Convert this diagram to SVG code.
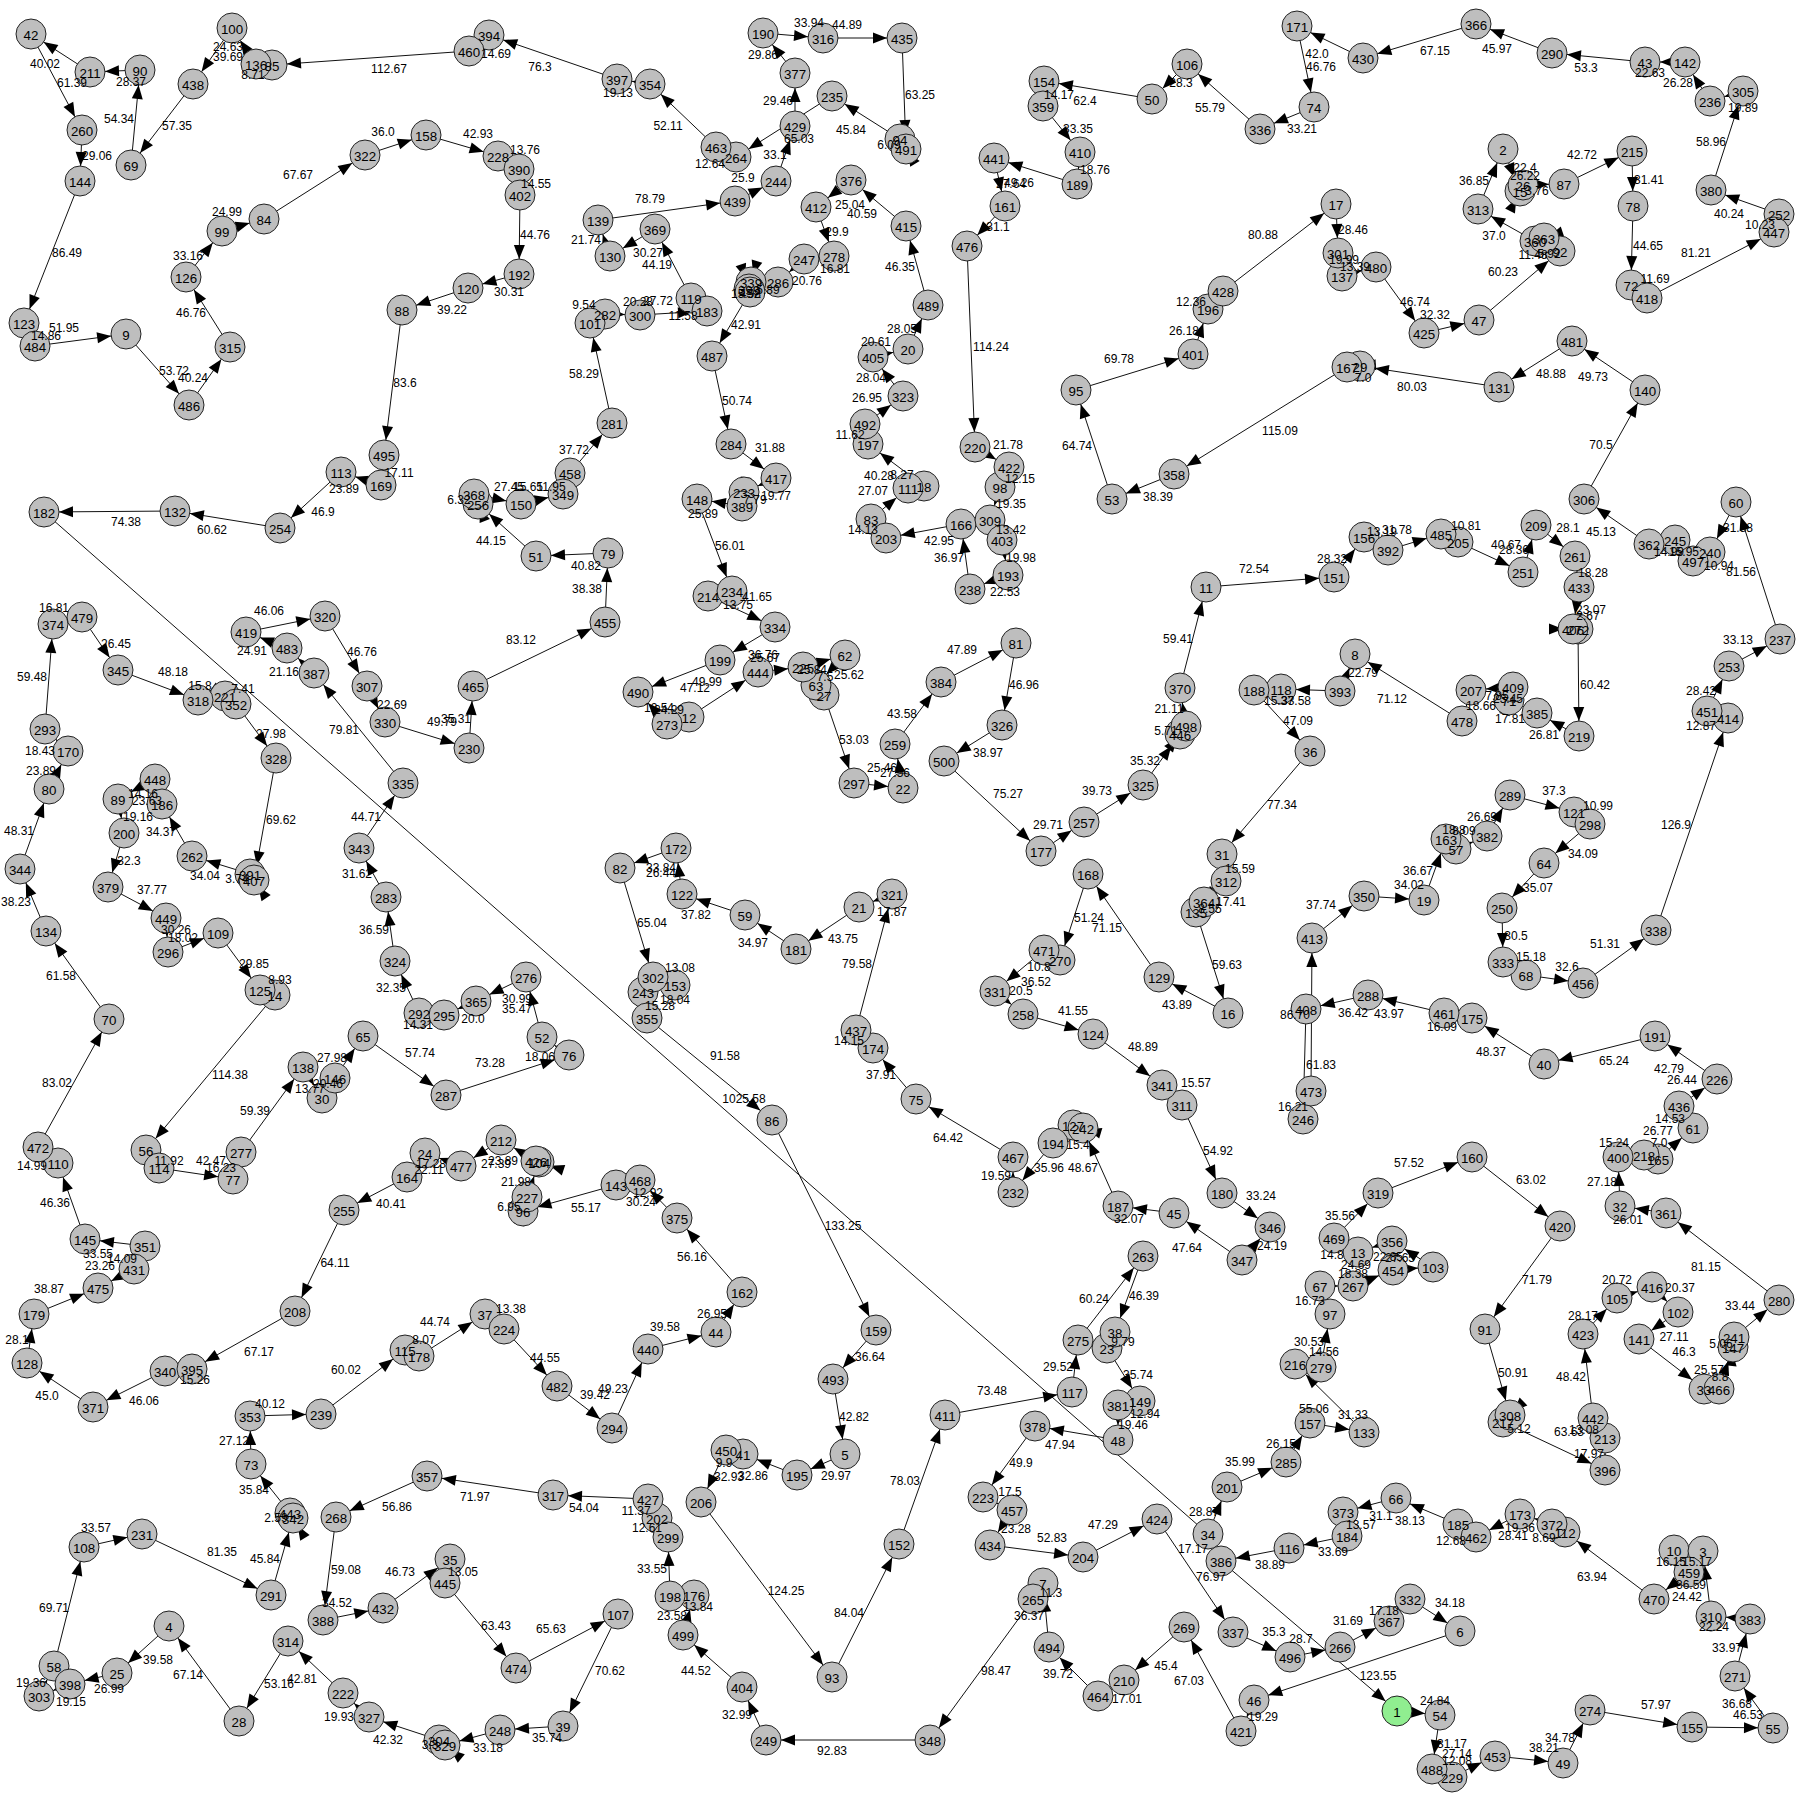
<svg xmlns="http://www.w3.org/2000/svg" width="1800" height="1800" viewBox="0 0 1800 1800">
<style>
text{font-family:"Liberation Sans",Arial,sans-serif;text-anchor:middle;fill:#000}
text[id]{fill:inherit}
#edges path{fill:none;stroke:#111;stroke-width:1}
#edges path.x{marker-end:none}
.n{fill:none}
.n circle{r:15px;fill:#bebebe;stroke:#222;stroke-width:1}
.n.s circle{fill:#90ee90}
.n text{font-size:13.33px}
#labels text{font-size:12px}
#top use{fill:#000}
</style>
<defs><marker id="a" markerUnits="userSpaceOnUse" markerWidth="30" markerHeight="12" refX="30" refY="6" orient="auto"><path d="M1 .5L15 6L1 11.5z" fill="#000"/></marker></defs>
<rect width="1800" height="1800" fill="#fff"/>
<g id="edges" marker-end="url(#a)">
<path d="M90 72L31 34"/><path d="M31 34L82 130"/><path d="M140 70L90 72"/><path d="M131 165L140 70"/><path d="M82 130L80 181"/><path d="M80 181L24 323"/><path d="M24 323L35 346"/><path d="M35 346L126 334"/><path d="M126 334L189 405"/><path d="M189 405L230 347"/><path d="M230 347L186 277"/><path d="M186 277L222 231"/><path d="M222 231L264 219"/><path d="M264 219L365 155"/><path d="M365 155L426 135"/><path d="M426 135L498 156"/><path d="M498 156L519 169"/><path d="M519 169L520 195"/><path d="M520 195L519 274"/><path d="M519 274L468 288"/><path d="M468 288L402 310"/><path d="M402 310L384 455"/><path d="M384 455L381 485"/><path d="M381 485L341 472"/><path d="M341 472L280 528"/><path d="M280 528L175 511"/><path d="M175 511L44 512"/><path class="x" d="M44 512L1208 1534"/>
<path d="M256 64L232 28"/><path d="M232 28L193 84"/><path d="M272 65L256 64"/><path d="M469 51L272 65"/><path d="M489 35L469 51"/><path d="M617 79L489 35"/><path d="M193 84L131 165"/>
<path d="M570 473L612 423"/><path d="M563 494L570 473"/><path d="M521 504L563 494"/><path d="M474 494L521 504"/><path d="M478 504L474 494"/><path d="M536 556L478 504"/><path d="M608 553L536 556"/><path d="M605 622L608 553"/>
<path d="M612 423L590 323"/><path d="M590 323L605 314"/><path d="M605 314L640 315"/><path d="M640 315L707 311"/><path d="M707 311L691 298"/><path d="M691 298L655 229"/><path d="M655 229L610 256"/><path d="M610 256L598 220"/><path d="M598 220L735 201"/><path d="M735 201L776 181"/><path d="M776 181L795 126"/><path d="M795 126L795 73"/><path d="M795 73L763 33"/><path d="M763 33L823 38"/><path d="M823 38L902 38"/><path d="M902 38L906 149"/><path d="M906 149L900 139"/><path d="M900 139L832 96"/><path d="M832 96L736 157"/><path d="M736 157L716 147"/><path d="M716 147L650 84"/><path d="M650 84L617 79"/>
<path d="M906 226L851 180"/><path d="M851 180L816 207"/><path d="M816 207L834 256"/><path d="M834 256L804 259"/><path d="M804 259L778 282"/><path d="M778 282L751 282"/><path d="M751 282L749 289"/><path d="M749 289L750 292"/><path d="M750 292L712 356"/><path d="M712 356L731 444"/><path d="M731 444L776 478"/><path d="M776 478L744 492"/><path d="M744 492L742 506"/><path d="M742 506L697 499"/><path d="M697 499L732 591"/><path d="M732 591L708 596"/><path d="M708 596L775 627"/><path d="M775 627L720 660"/><path d="M720 660L638 692"/><path d="M667 724L638 692"/><path d="M689 717L667 724"/><path d="M689 717L758 672"/><path d="M758 672L803 667"/><path d="M803 667L845 655"/><path d="M845 655L816 685"/><path d="M816 685L824 695"/><path d="M824 695L854 783"/><path d="M854 783L903 788"/><path d="M903 788L895 744"/><path d="M895 744L941 682"/><path d="M941 682L1016 643"/><path d="M1016 643L1002 725"/><path d="M1002 725L944 761"/><path d="M944 761L1041 851"/><path d="M1041 851L1084 822"/><path d="M1084 822L1143 785"/><path d="M1143 785L1180 734"/><path d="M1180 734L1186 726"/><path d="M1186 726L1180 688"/><path d="M1180 688L1206 587"/><path d="M1206 587L1334 577"/><path d="M1334 577L1364 537"/><path d="M1364 537L1388 550"/><path d="M1388 550L1441 534"/><path d="M1441 534L1458 542"/><path d="M1458 542L1523 572"/><path d="M1523 572L1536 525"/><path d="M1536 525L1575 556"/><path d="M1575 556L1579 587"/><path d="M1579 587L1573 629"/><path d="M1573 629L1578 629"/><path d="M1578 629L1579 736"/><path d="M1579 736L1537 713"/><path d="M1537 713L1509 700"/><path d="M1509 700L1513 687"/><path d="M1513 687L1471 690"/><path d="M1471 690L1462 721"/><path d="M1462 721L1355 654"/><path d="M1340 691L1355 654"/><path d="M1340 691L1281 689"/><path d="M1281 689L1254 690"/><path d="M1254 690L1310 751"/><path d="M1310 751L1222 854"/><path d="M1222 854L1226 881"/><path d="M1226 881L1204 902"/><path d="M1204 902L1196 912"/><path d="M1196 912L1228 1013"/><path d="M1228 1013L1159 977"/><path d="M1159 977L1088 874"/><path d="M1088 874L1060 960"/><path d="M1060 960L1044 950"/><path d="M1044 950L995 991"/><path d="M995 991L1023 1014"/><path d="M1023 1014L1093 1034"/><path d="M1093 1034L1162 1085"/><path d="M1162 1085L1182 1105"/><path d="M1182 1105L1222 1193"/><path d="M1222 1193L1270 1227"/><path d="M1242 1260L1270 1227"/><path d="M1242 1260L1174 1213"/><path d="M1174 1213L1118 1206"/><path d="M1118 1206L1083 1128"/><path d="M1083 1128L1073 1125"/><path d="M1073 1125L1053 1143"/><path d="M1053 1143L1013 1192"/><path d="M1013 1192L1013 1157"/><path d="M1013 1157L916 1099"/><path d="M916 1099L873 1048"/><path d="M873 1048L856 1030"/><path d="M856 1030L892 894"/><path d="M892 894L859 907"/><path d="M859 907L796 949"/><path d="M796 949L745 915"/><path d="M745 915L682 894"/><path d="M682 894L676 848"/><path d="M676 848L620 868"/><path d="M620 868L653 977"/><path d="M653 977L675 985"/><path d="M675 985L643 992"/><path d="M643 992L647 1018"/><path d="M647 1018L772 1120"/><path d="M772 1120L876 1330"/><path d="M876 1330L833 1379"/><path d="M833 1379L845 1454"/><path d="M845 1454L797 1475"/><path d="M797 1475L743 1454"/><path d="M743 1454L726 1450"/><path d="M726 1450L701 1502"/><path d="M701 1502L832 1677"/><path d="M832 1677L899 1544"/><path d="M899 1544L945 1415"/><path d="M945 1415L1072 1392"/><path d="M1072 1392L1078 1340"/><path d="M1078 1340L1143 1256"/><path d="M1143 1256L1115 1332"/><path d="M1115 1332L1107 1348"/><path d="M1107 1348L1140 1401"/><path d="M1140 1401L1118 1405"/><path d="M1118 1405L1118 1440"/><path d="M1118 1440L1035 1426"/><path d="M1035 1426L983 1497"/><path d="M983 1497L1012 1510"/><path d="M1012 1510L990 1545"/><path d="M990 1545L1083 1557"/><path d="M1083 1557L1157 1519"/><path d="M1157 1519L1233 1632"/><path d="M1233 1632L1290 1657"/><path d="M1290 1657L1340 1647"/><path d="M1340 1647L1389 1621"/><path d="M1389 1621L1410 1599"/><path d="M1410 1599L1460 1631"/><path d="M1460 1631L1254 1700"/><path d="M1254 1700L1241 1731"/><path d="M1221 1561L1397 1711"/>
<path d="M1397 1711L1440 1715"/><path d="M1440 1715L1432 1769"/><path d="M1432 1769L1452 1777"/><path d="M1452 1777L1495 1756"/><path d="M1495 1756L1563 1763"/><path d="M1563 1763L1590 1710"/><path d="M1590 1710L1692 1727"/><path d="M1692 1727L1773 1728"/><path d="M1773 1728L1735 1676"/><path d="M1735 1676L1750 1619"/><path d="M1750 1619L1711 1616"/><path d="M1711 1616L1703 1551"/><path d="M1703 1551L1674 1550"/><path d="M1674 1550L1689 1572"/><path d="M1689 1572L1654 1599"/><path d="M1654 1599L1565 1532"/><path d="M1565 1532L1552 1524"/><path d="M1552 1524L1520 1514"/><path d="M1520 1514L1476 1537"/><path d="M1476 1537L1458 1524"/><path d="M1458 1524L1396 1498"/><path d="M1396 1498L1343 1512"/><path d="M1343 1512L1347 1536"/><path d="M1347 1536L1289 1548"/><path d="M1289 1548L1221 1561"/><path d="M1221 1561L1208 1534"/><path d="M1208 1534L1227 1487"/><path d="M1227 1487L1286 1462"/><path d="M1286 1462L1310 1423"/><path d="M1310 1423L1364 1432"/><path d="M1364 1432L1295 1364"/><path d="M1295 1364L1321 1367"/><path d="M1321 1367L1330 1314"/><path d="M1330 1314L1320 1286"/><path d="M1320 1286L1353 1286"/><path d="M1353 1286L1393 1270"/><path d="M1393 1270L1433 1267"/><path d="M1433 1267L1392 1241"/><path d="M1392 1241L1358 1252"/><path d="M1358 1252L1334 1238"/><path d="M1334 1238L1378 1193"/><path d="M1378 1193L1472 1157"/><path d="M1472 1157L1560 1226"/><path d="M1560 1226L1485 1329"/><path d="M1485 1329L1510 1415"/><path d="M1510 1415L1503 1422"/><path d="M1503 1422L1605 1470"/><path d="M1605 1470L1605 1438"/><path d="M1605 1438L1593 1418"/><path d="M1593 1418L1583 1334"/><path d="M1583 1334L1617 1298"/><path d="M1617 1298L1652 1287"/><path d="M1652 1287L1678 1312"/><path d="M1678 1312L1639 1339"/><path d="M1639 1339L1704 1389"/><path d="M1704 1389L1719 1389"/><path d="M1719 1389L1733 1347"/><path d="M1733 1347L1734 1337"/><path d="M1734 1337L1779 1300"/><path d="M1779 1300L1666 1213"/><path d="M1666 1213L1620 1206"/><path d="M1620 1206L1618 1157"/><path d="M1618 1157L1644 1155"/><path d="M1644 1155L1658 1159"/><path d="M1658 1159L1693 1128"/><path d="M1693 1128L1679 1106"/><path d="M1679 1106L1717 1079"/><path d="M1717 1079L1655 1036"/><path d="M1655 1036L1544 1064"/><path d="M1544 1064L1472 1018"/><path d="M1472 1018L1444 1013"/><path d="M1444 1013L1368 995"/><path d="M1368 995L1306 1009"/><path d="M1306 1009L1303 1119"/><path d="M1303 1119L1311 1091"/><path d="M1311 1091L1312 938"/><path d="M1312 938L1364 896"/><path d="M1364 896L1424 900"/><path d="M1424 900L1446 839"/><path d="M1446 839L1456 849"/><path d="M1456 849L1487 836"/><path d="M1487 836L1510 795"/><path d="M1510 795L1574 812"/><path d="M1574 812L1590 824"/><path d="M1590 824L1544 863"/><path d="M1544 863L1502 908"/><path d="M1502 908L1503 962"/><path d="M1503 962L1526 975"/><path d="M1526 975L1583 983"/><path d="M1583 983L1656 930"/><path d="M1656 930L1728 718"/><path d="M1728 718L1707 711"/><path d="M1707 711L1729 666"/><path d="M1729 666L1780 639"/><path d="M1780 639L1736 502"/><path d="M1736 502L1710 552"/><path d="M1710 552L1693 561"/><path d="M1693 561L1675 540"/><path d="M1675 540L1649 544"/><path d="M1649 544L1584 499"/><path d="M1584 499L1645 390"/><path d="M1645 390L1572 341"/><path d="M1572 341L1499 387"/><path d="M1499 387L1360 366"/><path d="M1360 366L1347 367"/><path d="M1347 367L1174 474"/><path d="M1174 474L1112 499"/><path d="M1112 499L1076 390"/><path d="M1076 390L1193 354"/><path d="M1193 354L1208 309"/><path d="M1208 309L1223 291"/><path d="M1223 291L1336 204"/><path d="M1336 204L1338 253"/><path d="M1338 253L1342 276"/><path d="M1342 276L1376 267"/><path d="M1376 267L1424 333"/><path d="M1424 333L1479 320"/><path d="M1479 320L1560 251"/><path d="M1560 251L1544 238"/><path d="M1544 238L1535 241"/><path d="M1535 241L1478 209"/><path d="M1478 209L1503 149"/><path d="M1503 149L1520 191"/><path d="M1520 191L1523 185"/><path d="M1523 185L1564 184"/><path d="M1564 184L1632 151"/><path d="M1632 151L1633 206"/><path d="M1633 206L1631 285"/><path d="M1631 285L1647 298"/><path d="M1647 298L1774 232"/><path d="M1774 232L1779 214"/><path d="M1779 214L1711 190"/><path d="M1711 190L1743 91"/><path d="M1743 91L1710 101"/><path d="M1710 101L1685 62"/><path d="M1685 62L1645 62"/><path d="M1645 62L1552 53"/><path d="M1552 53L1476 24"/><path d="M1476 24L1363 58"/><path d="M1363 58L1297 26"/><path d="M1297 26L1314 107"/><path d="M1314 107L1260 129"/><path d="M1260 129L1187 64"/><path d="M1187 64L1152 99"/><path d="M1152 99L1044 81"/><path d="M1044 81L1043 106"/><path d="M1043 106L1080 152"/><path d="M1080 152L1077 184"/><path d="M1077 184L994 158"/><path d="M994 158L1005 206"/><path d="M1005 206L967 246"/><path d="M967 246L975 447"/><path d="M975 447L1009 467"/><path d="M1009 467L1000 487"/><path d="M1000 487L990 520"/><path d="M990 520L1002 540"/><path d="M1002 540L1008 575"/><path d="M1008 575L970 589"/><path d="M970 589L961 524"/><path d="M961 524L886 538"/><path d="M886 538L871 519"/><path d="M871 519L908 488"/><path d="M908 488L924 486"/><path d="M924 486L868 444"/><path d="M868 444L865 424"/><path d="M865 424L903 396"/><path d="M903 396L873 357"/><path d="M873 357L908 349"/><path d="M908 349L928 305"/><path d="M928 305L906 226"/>
<path d="M82 617L118 670"/><path d="M118 670L198 700"/><path d="M198 700L225 696"/><path d="M225 696L236 704"/><path d="M236 704L276 758"/><path d="M276 758L254 880"/><path d="M254 880L250 874"/><path d="M250 874L192 856"/><path d="M192 856L162 804"/><path d="M162 804L155 779"/><path d="M155 779L118 799"/><path d="M118 799L124 833"/><path d="M124 833L108 887"/><path d="M108 887L166 918"/><path d="M166 918L168 952"/><path d="M168 952L218 933"/><path d="M218 933L260 990"/><path d="M260 990L275 995"/><path d="M275 995L146 1150"/><path d="M146 1150L159 1168"/><path d="M159 1168L233 1179"/><path d="M233 1179L241 1152"/><path d="M241 1152L303 1067"/><path d="M303 1067L322 1098"/><path d="M322 1098L335 1078"/><path d="M335 1078L363 1036"/><path d="M363 1036L446 1095"/><path d="M446 1095L569 1055"/><path d="M569 1055L542 1037"/><path d="M542 1037L526 977"/><path d="M526 977L476 1001"/><path d="M476 1001L444 1015"/><path d="M444 1015L419 1013"/><path d="M419 1013L395 961"/><path d="M395 961L386 897"/><path d="M386 897L359 848"/><path d="M359 848L403 783"/><path d="M403 783L314 673"/><path d="M314 673L287 648"/><path d="M287 648L246 632"/><path d="M246 632L325 616"/><path d="M325 616L367 686"/><path d="M367 686L385 722"/><path d="M385 722L469 748"/><path d="M469 748L473 686"/><path d="M473 686L605 622"/>
<path d="M53 624L82 617"/><path d="M45 729L53 624"/><path d="M68 751L45 729"/><path d="M49 789L68 751"/><path d="M20 869L49 789"/><path d="M46 931L20 869"/><path d="M109 1019L46 931"/><path d="M38 1147L109 1019"/><path d="M58 1163L38 1147"/><path d="M85 1239L58 1163"/><path d="M145 1246L85 1239"/><path d="M134 1269L145 1246"/><path d="M134 1269L98 1288"/><path d="M34 1314L98 1288"/><path d="M27 1363L34 1314"/><path d="M93 1407L27 1363"/><path d="M165 1371L93 1407"/><path d="M192 1369L165 1371"/><path d="M295 1311L192 1369"/><path d="M344 1210L295 1311"/><path d="M407 1177L344 1210"/><path d="M425 1153L407 1177"/><path d="M461 1166L425 1153"/><path d="M501 1140L461 1166"/><path d="M536 1161L501 1140"/><path d="M539 1162L536 1161"/><path d="M527 1197L539 1162"/><path d="M523 1211L527 1197"/><path d="M616 1185L523 1211"/><path d="M640 1180L616 1185"/><path d="M677 1218L640 1180"/><path d="M742 1292L677 1218"/><path d="M716 1332L742 1292"/><path d="M648 1349L716 1332"/><path d="M612 1428L648 1349"/><path d="M557 1386L612 1428"/><path d="M504 1329L557 1386"/><path d="M485 1314L504 1329"/><path d="M419 1356L485 1314"/><path d="M405 1350L419 1356"/><path d="M321 1414L405 1350"/><path d="M250 1416L321 1414"/><path d="M251 1464L250 1416"/><path d="M290 1513L251 1464"/><path d="M293 1518L290 1513"/><path d="M271 1595L293 1518"/><path d="M142 1534L271 1595"/><path d="M84 1547L142 1534"/><path d="M54 1666L84 1547"/><path d="M39 1696L54 1666"/><path d="M70 1684L39 1696"/><path d="M117 1673L70 1684"/><path d="M169 1626L117 1673"/><path d="M239 1721L169 1626"/><path d="M288 1641L239 1721"/><path d="M343 1693L288 1641"/><path d="M369 1717L343 1693"/><path d="M439 1740L369 1717"/><path d="M445 1745L439 1740"/><path d="M500 1730L445 1745"/><path d="M563 1726L500 1730"/><path d="M618 1614L563 1726"/><path d="M516 1668L618 1614"/><path d="M445 1583L516 1668"/><path d="M450 1559L445 1583"/><path d="M383 1608L450 1559"/><path d="M323 1620L383 1608"/><path d="M336 1517L323 1620"/><path d="M427 1476L336 1517"/><path d="M553 1495L427 1476"/><path d="M648 1499L553 1495"/><path d="M657 1518L648 1499"/><path d="M668 1537L657 1518"/><path d="M670 1596L668 1537"/><path d="M694 1595L670 1596"/><path d="M683 1635L694 1595"/><path d="M742 1687L683 1635"/><path d="M766 1740L742 1687"/><path d="M930 1740L766 1740"/><path d="M1033 1599L930 1740"/><path d="M1043 1583L1033 1599"/><path d="M1049 1647L1043 1583"/><path d="M1098 1696L1049 1647"/><path d="M1124 1680L1098 1696"/><path d="M1184 1627L1124 1680"/><path d="M1241 1731L1184 1627"/>
</g>
<g id="nodes">
<g id="n85" class="n" transform="translate(272 65)"><circle/><text id="t85" y="6">85</text></g>
<g id="n42" class="n" transform="translate(31 34)"><circle/><text y="6">42</text></g>
<g id="n211" class="n" transform="translate(90 72)"><circle/><text y="6">211</text></g>
<g id="n90" class="n" transform="translate(140 70)"><circle/><text y="6">90</text></g>
<g id="n260" class="n" transform="translate(82 130)"><circle/><text y="6">260</text></g>
<g id="n69" class="n" transform="translate(131 165)"><circle/><text y="6">69</text></g>
<g id="n144" class="n" transform="translate(80 181)"><circle/><text y="6">144</text></g>
<g id="n123" class="n" transform="translate(24 323)"><circle/><text id="t123" y="6">123</text></g>
<g id="n484" class="n" transform="translate(35 346)"><circle/><text y="6">484</text></g>
<g id="n9" class="n" transform="translate(126 334)"><circle/><text y="6">9</text></g>
<g id="n486" class="n" transform="translate(189 405)"><circle/><text y="6">486</text></g>
<g id="n315" class="n" transform="translate(230 347)"><circle/><text y="6">315</text></g>
<g id="n126" class="n" transform="translate(186 277)"><circle/><text y="6">126</text></g>
<g id="n99" class="n" transform="translate(222 231)"><circle/><text y="6">99</text></g>
<g id="n84" class="n" transform="translate(264 219)"><circle/><text y="6">84</text></g>
<g id="n322" class="n" transform="translate(365 155)"><circle/><text y="6">322</text></g>
<g id="n158" class="n" transform="translate(426 135)"><circle/><text y="6">158</text></g>
<g id="n228" class="n" transform="translate(498 156)"><circle/><text id="t228" y="6">228</text></g>
<g id="n390" class="n" transform="translate(519 169)"><circle/><text id="t390" y="6">390</text></g>
<g id="n402" class="n" transform="translate(520 195)"><circle/><text y="6">402</text></g>
<g id="n192" class="n" transform="translate(519 274)"><circle/><text y="6">192</text></g>
<g id="n120" class="n" transform="translate(468 288)"><circle/><text y="6">120</text></g>
<g id="n88" class="n" transform="translate(402 310)"><circle/><text y="6">88</text></g>
<g id="n495" class="n" transform="translate(384 455)"><circle/><text y="6">495</text></g>
<g id="n169" class="n" transform="translate(381 485)"><circle/><text y="6">169</text></g>
<g id="n113" class="n" transform="translate(341 472)"><circle/><text y="6">113</text></g>
<g id="n254" class="n" transform="translate(280 528)"><circle/><text y="6">254</text></g>
<g id="n132" class="n" transform="translate(175 511)"><circle/><text y="6">132</text></g>
<g id="n182" class="n" transform="translate(44 512)"><circle/><text y="6">182</text></g>
<g id="n100" class="n" transform="translate(232 28)"><circle/><text y="6">100</text></g>
<g id="n136" class="n" transform="translate(256 64)"><circle/><text id="t136" y="6">136</text></g>
<g id="n438" class="n" transform="translate(193 84)"><circle/><text y="6">438</text></g>
<g id="n394" class="n" transform="translate(489 35)"><circle/><text id="t394" y="6">394</text></g>
<g id="n460" class="n" transform="translate(469 51)"><circle/><text y="6">460</text></g>
<g id="n256" class="n" transform="translate(478 504)"><circle/><text id="t256" y="6">256</text></g>
<g id="n368" class="n" transform="translate(474 494)"><circle/><text y="6">368</text></g>
<g id="n150" class="n" transform="translate(521 504)"><circle/><text y="6">150</text></g>
<g id="n458" class="n" transform="translate(570 473)"><circle/><text id="t458" y="6">458</text></g>
<g id="n349" class="n" transform="translate(563 494)"><circle/><text y="6">349</text></g>
<g id="n281" class="n" transform="translate(612 423)"><circle/><text y="6">281</text></g>
<g id="n282" class="n" transform="translate(605 314)"><circle/><text id="t282" y="6">282</text></g>
<g id="n101" class="n" transform="translate(590 323)"><circle/><text y="6">101</text></g>
<g id="n51" class="n" transform="translate(536 556)"><circle/><text y="6">51</text></g>
<g id="n79" class="n" transform="translate(608 553)"><circle/><text y="6">79</text></g>
<g id="n139" class="n" transform="translate(598 220)"><circle/><text y="6">139</text></g>
<g id="n130" class="n" transform="translate(610 256)"><circle/><text y="6">130</text></g>
<g id="n369" class="n" transform="translate(655 229)"><circle/><text y="6">369</text></g>
<g id="n119" class="n" transform="translate(691 298)"><circle/><text id="t119" y="6">119</text></g>
<g id="n183" class="n" transform="translate(707 311)"><circle/><text y="6">183</text></g>
<g id="n300" class="n" transform="translate(640 315)"><circle/><text y="6">300</text></g>
<g id="n397" class="n" transform="translate(617 79)"><circle/><text y="6">397</text></g>
<g id="n354" class="n" transform="translate(650 84)"><circle/><text y="6">354</text></g>
<g id="n190" class="n" transform="translate(763 33)"><circle/><text y="6">190</text></g>
<g id="n316" class="n" transform="translate(823 38)"><circle/><text y="6">316</text></g>
<g id="n435" class="n" transform="translate(902 38)"><circle/><text y="6">435</text></g>
<g id="n377" class="n" transform="translate(795 73)"><circle/><text y="6">377</text></g>
<g id="n235" class="n" transform="translate(832 96)"><circle/><text y="6">235</text></g>
<g id="n429" class="n" transform="translate(795 126)"><circle/><text y="6">429</text></g>
<g id="n264" class="n" transform="translate(736 157)"><circle/><text id="t264" y="6">264</text></g>
<g id="n463" class="n" transform="translate(716 147)"><circle/><text y="6">463</text></g>
<g id="n94" class="n" transform="translate(900 139)"><circle/><text id="t94" y="6">94</text></g>
<g id="n491" class="n" transform="translate(906 149)"><circle/><text y="6">491</text></g>
<g id="n244" class="n" transform="translate(776 181)"><circle/><text y="6">244</text></g>
<g id="n439" class="n" transform="translate(735 201)"><circle/><text y="6">439</text></g>
<g id="n412" class="n" transform="translate(816 207)"><circle/><text y="6">412</text></g>
<g id="n376" class="n" transform="translate(851 180)"><circle/><text y="6">376</text></g>
<g id="n415" class="n" transform="translate(906 226)"><circle/><text y="6">415</text></g>
<g id="n278" class="n" transform="translate(834 256)"><circle/><text id="t278" y="6">278</text></g>
<g id="n247" class="n" transform="translate(804 259)"><circle/><text y="6">247</text></g>
<g id="n286" class="n" transform="translate(778 282)"><circle/><text id="t286" y="6">286</text></g>
<g id="n339" class="n" transform="translate(751 282)"><circle/><text id="t339" y="6">339</text></g>
<g id="n399" class="n" transform="translate(749 289)"><circle/><text id="t399" y="6">399</text></g>
<g id="n452" class="n" transform="translate(750 292)"><circle/><text y="6">452</text></g>
<g id="n487" class="n" transform="translate(712 356)"><circle/><text y="6">487</text></g>
<g id="n284" class="n" transform="translate(731 444)"><circle/><text y="6">284</text></g>
<g id="n417" class="n" transform="translate(776 478)"><circle/><text id="t417" y="6">417</text></g>
<g id="n233" class="n" transform="translate(744 492)"><circle/><text id="t233" y="6">233</text></g>
<g id="n389" class="n" transform="translate(742 506)"><circle/><text y="6">389</text></g>
<g id="n148" class="n" transform="translate(697 499)"><circle/><text y="6">148</text></g>
<g id="n214" class="n" transform="translate(708 596)"><circle/><text id="t214" y="6">214</text></g>
<g id="n234" class="n" transform="translate(732 591)"><circle/><text y="6">234</text></g>
<g id="n489" class="n" transform="translate(928 305)"><circle/><text y="6">489</text></g>
<g id="n20" class="n" transform="translate(908 349)"><circle/><text y="6">20</text></g>
<g id="n405" class="n" transform="translate(873 357)"><circle/><text y="6">405</text></g>
<g id="n323" class="n" transform="translate(903 396)"><circle/><text y="6">323</text></g>
<g id="n197" class="n" transform="translate(868 444)"><circle/><text id="t197" y="6">197</text></g>
<g id="n492" class="n" transform="translate(865 424)"><circle/><text y="6">492</text></g>
<g id="n18" class="n" transform="translate(924 486)"><circle/><text id="t18" y="6">18</text></g>
<g id="n111" class="n" transform="translate(908 488)"><circle/><text y="6">111</text></g>
<g id="n83" class="n" transform="translate(871 519)"><circle/><text id="t83" y="6">83</text></g>
<g id="n203" class="n" transform="translate(886 538)"><circle/><text y="6">203</text></g>
<g id="n166" class="n" transform="translate(961 524)"><circle/><text y="6">166</text></g>
<g id="n309" class="n" transform="translate(990 520)"><circle/><text id="t309" y="6">309</text></g>
<g id="n403" class="n" transform="translate(1002 540)"><circle/><text y="6">403</text></g>
<g id="n193" class="n" transform="translate(1008 575)"><circle/><text y="6">193</text></g>
<g id="n238" class="n" transform="translate(970 589)"><circle/><text y="6">238</text></g>
<g id="n220" class="n" transform="translate(975 447)"><circle/><text y="6">220</text></g>
<g id="n98" class="n" transform="translate(1000 487)"><circle/><text y="6">98</text></g>
<g id="n422" class="n" transform="translate(1009 467)"><circle/><text y="6">422</text></g>
<g id="n476" class="n" transform="translate(967 246)"><circle/><text y="6">476</text></g>
<g id="n161" class="n" transform="translate(1005 206)"><circle/><text y="6">161</text></g>
<g id="n441" class="n" transform="translate(994 158)"><circle/><text y="6">441</text></g>
<g id="n189" class="n" transform="translate(1077 184)"><circle/><text y="6">189</text></g>
<g id="n410" class="n" transform="translate(1080 152)"><circle/><text y="6">410</text></g>
<g id="n154" class="n" transform="translate(1044 81)"><circle/><text y="6">154</text></g>
<g id="n359" class="n" transform="translate(1043 106)"><circle/><text y="6">359</text></g>
<g id="n50" class="n" transform="translate(1152 99)"><circle/><text y="6">50</text></g>
<g id="n106" class="n" transform="translate(1187 64)"><circle/><text y="6">106</text></g>
<g id="n95" class="n" transform="translate(1076 390)"><circle/><text y="6">95</text></g>
<g id="n53" class="n" transform="translate(1112 499)"><circle/><text y="6">53</text></g>
<g id="n358" class="n" transform="translate(1174 474)"><circle/><text y="6">358</text></g>
<g id="n401" class="n" transform="translate(1193 354)"><circle/><text y="6">401</text></g>
<g id="n196" class="n" transform="translate(1208 309)"><circle/><text id="t196" y="6">196</text></g>
<g id="n428" class="n" transform="translate(1223 291)"><circle/><text y="6">428</text></g>
<g id="n17" class="n" transform="translate(1336 204)"><circle/><text y="6">17</text></g>
<g id="n137" class="n" transform="translate(1342 276)"><circle/><text id="t137" y="6">137</text></g>
<g id="n301" class="n" transform="translate(1338 253)"><circle/><text y="6">301</text></g>
<g id="n480" class="n" transform="translate(1376 267)"><circle/><text y="6">480</text></g>
<g id="n425" class="n" transform="translate(1424 333)"><circle/><text y="6">425</text></g>
<g id="n47" class="n" transform="translate(1479 320)"><circle/><text y="6">47</text></g>
<g id="n92" class="n" transform="translate(1560 251)"><circle/><text id="t92" y="6">92</text></g>
<g id="n360" class="n" transform="translate(1535 241)"><circle/><text id="t360" y="6">360</text></g>
<g id="n363" class="n" transform="translate(1544 238)"><circle/><text y="6">363</text></g>
<g id="n313" class="n" transform="translate(1478 209)"><circle/><text y="6">313</text></g>
<g id="n2" class="n" transform="translate(1503 149)"><circle/><text y="6">2</text></g>
<g id="n15" class="n" transform="translate(1520 191)"><circle/><text id="t15" y="6">15</text></g>
<g id="n26" class="n" transform="translate(1523 185)"><circle/><text y="6">26</text></g>
<g id="n87" class="n" transform="translate(1564 184)"><circle/><text y="6">87</text></g>
<g id="n215" class="n" transform="translate(1632 151)"><circle/><text y="6">215</text></g>
<g id="n78" class="n" transform="translate(1633 206)"><circle/><text y="6">78</text></g>
<g id="n72" class="n" transform="translate(1631 285)"><circle/><text id="t72" y="6">72</text></g>
<g id="n418" class="n" transform="translate(1647 298)"><circle/><text y="6">418</text></g>
<g id="n252" class="n" transform="translate(1779 214)"><circle/><text id="t252" y="6">252</text></g>
<g id="n447" class="n" transform="translate(1774 232)"><circle/><text y="6">447</text></g>
<g id="n380" class="n" transform="translate(1711 190)"><circle/><text y="6">380</text></g>
<g id="n305" class="n" transform="translate(1743 91)"><circle/><text y="6">305</text></g>
<g id="n236" class="n" transform="translate(1710 101)"><circle/><text y="6">236</text></g>
<g id="n142" class="n" transform="translate(1685 62)"><circle/><text y="6">142</text></g>
<g id="n43" class="n" transform="translate(1645 62)"><circle/><text y="6">43</text></g>
<g id="n290" class="n" transform="translate(1552 53)"><circle/><text y="6">290</text></g>
<g id="n366" class="n" transform="translate(1476 24)"><circle/><text y="6">366</text></g>
<g id="n430" class="n" transform="translate(1363 58)"><circle/><text y="6">430</text></g>
<g id="n171" class="n" transform="translate(1297 26)"><circle/><text y="6">171</text></g>
<g id="n74" class="n" transform="translate(1314 107)"><circle/><text y="6">74</text></g>
<g id="n336" class="n" transform="translate(1260 129)"><circle/><text y="6">336</text></g>
<g id="n481" class="n" transform="translate(1572 341)"><circle/><text y="6">481</text></g>
<g id="n131" class="n" transform="translate(1499 387)"><circle/><text y="6">131</text></g>
<g id="n140" class="n" transform="translate(1645 390)"><circle/><text y="6">140</text></g>
<g id="n29" class="n" transform="translate(1360 366)"><circle/><text id="t29" y="6">29</text></g>
<g id="n167" class="n" transform="translate(1347 367)"><circle/><text y="6">167</text></g>
<g id="n306" class="n" transform="translate(1584 499)"><circle/><text y="6">306</text></g>
<g id="n245" class="n" transform="translate(1675 540)"><circle/><text id="t245" y="6">245</text></g>
<g id="n362" class="n" transform="translate(1649 544)"><circle/><text y="6">362</text></g>
<g id="n240" class="n" transform="translate(1710 552)"><circle/><text id="t240" y="6">240</text></g>
<g id="n497" class="n" transform="translate(1693 561)"><circle/><text y="6">497</text></g>
<g id="n60" class="n" transform="translate(1736 502)"><circle/><text y="6">60</text></g>
<g id="n237" class="n" transform="translate(1780 639)"><circle/><text y="6">237</text></g>
<g id="n209" class="n" transform="translate(1536 525)"><circle/><text y="6">209</text></g>
<g id="n261" class="n" transform="translate(1575 556)"><circle/><text y="6">261</text></g>
<g id="n251" class="n" transform="translate(1523 572)"><circle/><text y="6">251</text></g>
<g id="n205" class="n" transform="translate(1458 542)"><circle/><text id="t205" y="6">205</text></g>
<g id="n485" class="n" transform="translate(1441 534)"><circle/><text y="6">485</text></g>
<g id="n156" class="n" transform="translate(1364 537)"><circle/><text id="t156" y="6">156</text></g>
<g id="n392" class="n" transform="translate(1388 550)"><circle/><text y="6">392</text></g>
<g id="n151" class="n" transform="translate(1334 577)"><circle/><text y="6">151</text></g>
<g id="n11" class="n" transform="translate(1206 587)"><circle/><text y="6">11</text></g>
<g id="n433" class="n" transform="translate(1579 587)"><circle/><text y="6">433</text></g>
<g id="n374" class="n" transform="translate(53 624)"><circle/><text y="6">374</text></g>
<g id="n479" class="n" transform="translate(82 617)"><circle/><text y="6">479</text></g>
<g id="n345" class="n" transform="translate(118 670)"><circle/><text y="6">345</text></g>
<g id="n221" class="n" transform="translate(225 696)"><circle/><text id="t221" y="6">221</text></g>
<g id="n318" class="n" transform="translate(198 700)"><circle/><text id="t318" y="6">318</text></g>
<g id="n352" class="n" transform="translate(236 704)"><circle/><text y="6">352</text></g>
<g id="n328" class="n" transform="translate(276 758)"><circle/><text y="6">328</text></g>
<g id="n419" class="n" transform="translate(246 632)"><circle/><text y="6">419</text></g>
<g id="n483" class="n" transform="translate(287 648)"><circle/><text y="6">483</text></g>
<g id="n320" class="n" transform="translate(325 616)"><circle/><text y="6">320</text></g>
<g id="n387" class="n" transform="translate(314 673)"><circle/><text y="6">387</text></g>
<g id="n307" class="n" transform="translate(367 686)"><circle/><text y="6">307</text></g>
<g id="n330" class="n" transform="translate(385 722)"><circle/><text y="6">330</text></g>
<g id="n230" class="n" transform="translate(469 748)"><circle/><text y="6">230</text></g>
<g id="n465" class="n" transform="translate(473 686)"><circle/><text y="6">465</text></g>
<g id="n455" class="n" transform="translate(605 622)"><circle/><text y="6">455</text></g>
<g id="n293" class="n" transform="translate(45 729)"><circle/><text y="6">293</text></g>
<g id="n170" class="n" transform="translate(68 751)"><circle/><text y="6">170</text></g>
<g id="n80" class="n" transform="translate(49 789)"><circle/><text y="6">80</text></g>
<g id="n344" class="n" transform="translate(20 869)"><circle/><text y="6">344</text></g>
<g id="n134" class="n" transform="translate(46 931)"><circle/><text y="6">134</text></g>
<g id="n70" class="n" transform="translate(109 1019)"><circle/><text y="6">70</text></g>
<g id="n110" class="n" transform="translate(58 1163)"><circle/><text id="t110" y="6">110</text></g>
<g id="n472" class="n" transform="translate(38 1147)"><circle/><text y="6">472</text></g>
<g id="n448" class="n" transform="translate(155 779)"><circle/><text id="t448" y="6">448</text></g>
<g id="n89" class="n" transform="translate(118 799)"><circle/><text y="6">89</text></g>
<g id="n186" class="n" transform="translate(162 804)"><circle/><text y="6">186</text></g>
<g id="n200" class="n" transform="translate(124 833)"><circle/><text y="6">200</text></g>
<g id="n379" class="n" transform="translate(108 887)"><circle/><text y="6">379</text></g>
<g id="n262" class="n" transform="translate(192 856)"><circle/><text y="6">262</text></g>
<g id="n391" class="n" transform="translate(250 874)"><circle/><text id="t391" y="6">391</text></g>
<g id="n407" class="n" transform="translate(254 880)"><circle/><text y="6">407</text></g>
<g id="n449" class="n" transform="translate(166 918)"><circle/><text y="6">449</text></g>
<g id="n296" class="n" transform="translate(168 952)"><circle/><text y="6">296</text></g>
<g id="n109" class="n" transform="translate(218 933)"><circle/><text y="6">109</text></g>
<g id="n14" class="n" transform="translate(275 995)"><circle/><text id="t14" y="6">14</text></g>
<g id="n125" class="n" transform="translate(260 990)"><circle/><text y="6">125</text></g>
<g id="n56" class="n" transform="translate(146 1150)"><circle/><text id="t56" y="6">56</text></g>
<g id="n114" class="n" transform="translate(159 1168)"><circle/><text y="6">114</text></g>
<g id="n277" class="n" transform="translate(241 1152)"><circle/><text id="t277" y="6">277</text></g>
<g id="n77" class="n" transform="translate(233 1179)"><circle/><text y="6">77</text></g>
<g id="n138" class="n" transform="translate(303 1067)"><circle/><text y="6">138</text></g>
<g id="n30" class="n" transform="translate(322 1098)"><circle/><text id="t30" y="6">30</text></g>
<g id="n146" class="n" transform="translate(335 1078)"><circle/><text y="6">146</text></g>
<g id="n65" class="n" transform="translate(363 1036)"><circle/><text y="6">65</text></g>
<g id="n287" class="n" transform="translate(446 1095)"><circle/><text y="6">287</text></g>
<g id="n52" class="n" transform="translate(542 1037)"><circle/><text y="6">52</text></g>
<g id="n76" class="n" transform="translate(569 1055)"><circle/><text y="6">76</text></g>
<g id="n276" class="n" transform="translate(526 977)"><circle/><text y="6">276</text></g>
<g id="n365" class="n" transform="translate(476 1001)"><circle/><text y="6">365</text></g>
<g id="n292" class="n" transform="translate(419 1013)"><circle/><text id="t292" y="6">292</text></g>
<g id="n295" class="n" transform="translate(444 1015)"><circle/><text y="6">295</text></g>
<g id="n324" class="n" transform="translate(395 961)"><circle/><text y="6">324</text></g>
<g id="n283" class="n" transform="translate(386 897)"><circle/><text y="6">283</text></g>
<g id="n343" class="n" transform="translate(359 848)"><circle/><text y="6">343</text></g>
<g id="n335" class="n" transform="translate(403 783)"><circle/><text y="6">335</text></g>
<g id="n24" class="n" transform="translate(425 1153)"><circle/><text id="t24" y="6">24</text></g>
<g id="n164" class="n" transform="translate(407 1177)"><circle/><text y="6">164</text></g>
<g id="n477" class="n" transform="translate(461 1166)"><circle/><text y="6">477</text></g>
<g id="n212" class="n" transform="translate(501 1140)"><circle/><text y="6">212</text></g>
<g id="n104" class="n" transform="translate(539 1162)"><circle/><text id="t104" y="6">104</text></g>
<g id="n426" class="n" transform="translate(536 1161)"><circle/><text y="6">426</text></g>
<g id="n96" class="n" transform="translate(523 1211)"><circle/><text id="t96" y="6">96</text></g>
<g id="n227" class="n" transform="translate(527 1197)"><circle/><text y="6">227</text></g>
<g id="n334" class="n" transform="translate(775 627)"><circle/><text y="6">334</text></g>
<g id="n199" class="n" transform="translate(720 660)"><circle/><text y="6">199</text></g>
<g id="n444" class="n" transform="translate(758 672)"><circle/><text y="6">444</text></g>
<g id="n490" class="n" transform="translate(638 692)"><circle/><text y="6">490</text></g>
<g id="n12" class="n" transform="translate(689 717)"><circle/><text id="t12" y="6">12</text></g>
<g id="n273" class="n" transform="translate(667 724)"><circle/><text y="6">273</text></g>
<g id="n62" class="n" transform="translate(845 655)"><circle/><text y="6">62</text></g>
<g id="n27" class="n" transform="translate(824 695)"><circle/><text id="t27" y="6">27</text></g>
<g id="n63" class="n" transform="translate(816 685)"><circle/><text id="t63" y="6">63</text></g>
<g id="n225" class="n" transform="translate(803 667)"><circle/><text y="6">225</text></g>
<g id="n297" class="n" transform="translate(854 783)"><circle/><text y="6">297</text></g>
<g id="n22" class="n" transform="translate(903 788)"><circle/><text y="6">22</text></g>
<g id="n259" class="n" transform="translate(895 744)"><circle/><text y="6">259</text></g>
<g id="n384" class="n" transform="translate(941 682)"><circle/><text y="6">384</text></g>
<g id="n81" class="n" transform="translate(1016 643)"><circle/><text y="6">81</text></g>
<g id="n326" class="n" transform="translate(1002 725)"><circle/><text y="6">326</text></g>
<g id="n500" class="n" transform="translate(944 761)"><circle/><text y="6">500</text></g>
<g id="n177" class="n" transform="translate(1041 851)"><circle/><text y="6">177</text></g>
<g id="n257" class="n" transform="translate(1084 822)"><circle/><text y="6">257</text></g>
<g id="n325" class="n" transform="translate(1143 785)"><circle/><text y="6">325</text></g>
<g id="n370" class="n" transform="translate(1180 688)"><circle/><text y="6">370</text></g>
<g id="n446" class="n" transform="translate(1180 734)"><circle/><text id="t446" y="6">446</text></g>
<g id="n498" class="n" transform="translate(1186 726)"><circle/><text y="6">498</text></g>
<g id="n172" class="n" transform="translate(676 848)"><circle/><text y="6">172</text></g>
<g id="n82" class="n" transform="translate(620 868)"><circle/><text y="6">82</text></g>
<g id="n122" class="n" transform="translate(682 894)"><circle/><text y="6">122</text></g>
<g id="n59" class="n" transform="translate(745 915)"><circle/><text y="6">59</text></g>
<g id="n181" class="n" transform="translate(796 949)"><circle/><text y="6">181</text></g>
<g id="n21" class="n" transform="translate(859 907)"><circle/><text y="6">21</text></g>
<g id="n321" class="n" transform="translate(892 894)"><circle/><text y="6">321</text></g>
<g id="n153" class="n" transform="translate(675 985)"><circle/><text id="t153" y="6">153</text></g>
<g id="n243" class="n" transform="translate(643 992)"><circle/><text id="t243" y="6">243</text></g>
<g id="n302" class="n" transform="translate(653 977)"><circle/><text y="6">302</text></g>
<g id="n355" class="n" transform="translate(647 1018)"><circle/><text y="6">355</text></g>
<g id="n174" class="n" transform="translate(873 1048)"><circle/><text id="t174" y="6">174</text></g>
<g id="n437" class="n" transform="translate(856 1030)"><circle/><text y="6">437</text></g>
<g id="n86" class="n" transform="translate(772 1120)"><circle/><text y="6">86</text></g>
<g id="n75" class="n" transform="translate(916 1099)"><circle/><text y="6">75</text></g>
<g id="n232" class="n" transform="translate(1013 1192)"><circle/><text y="6">232</text></g>
<g id="n467" class="n" transform="translate(1013 1157)"><circle/><text y="6">467</text></g>
<g id="n127" class="n" transform="translate(1073 1125)"><circle/><text id="t127" y="6">127</text></g>
<g id="n242" class="n" transform="translate(1083 1128)"><circle/><text y="6">242</text></g>
<g id="n194" class="n" transform="translate(1053 1143)"><circle/><text y="6">194</text></g>
<g id="n168" class="n" transform="translate(1088 874)"><circle/><text y="6">168</text></g>
<g id="n270" class="n" transform="translate(1060 960)"><circle/><text id="t270" y="6">270</text></g>
<g id="n471" class="n" transform="translate(1044 950)"><circle/><text y="6">471</text></g>
<g id="n258" class="n" transform="translate(1023 1014)"><circle/><text y="6">258</text></g>
<g id="n331" class="n" transform="translate(995 991)"><circle/><text y="6">331</text></g>
<g id="n124" class="n" transform="translate(1093 1034)"><circle/><text y="6">124</text></g>
<g id="n129" class="n" transform="translate(1159 977)"><circle/><text y="6">129</text></g>
<g id="n311" class="n" transform="translate(1182 1105)"><circle/><text y="6">311</text></g>
<g id="n341" class="n" transform="translate(1162 1085)"><circle/><text y="6">341</text></g>
<g id="n8" class="n" transform="translate(1355 654)"><circle/><text y="6">8</text></g>
<g id="n393" class="n" transform="translate(1340 691)"><circle/><text y="6">393</text></g>
<g id="n118" class="n" transform="translate(1281 689)"><circle/><text id="t118" y="6">118</text></g>
<g id="n188" class="n" transform="translate(1254 690)"><circle/><text y="6">188</text></g>
<g id="n36" class="n" transform="translate(1310 751)"><circle/><text y="6">36</text></g>
<g id="n31" class="n" transform="translate(1222 854)"><circle/><text y="6">31</text></g>
<g id="n312" class="n" transform="translate(1226 881)"><circle/><text id="t312" y="6">312</text></g>
<g id="n135" class="n" transform="translate(1196 912)"><circle/><text id="t135" y="6">135</text></g>
<g id="n364" class="n" transform="translate(1204 902)"><circle/><text y="6">364</text></g>
<g id="n16" class="n" transform="translate(1228 1013)"><circle/><text y="6">16</text></g>
<g id="n413" class="n" transform="translate(1312 938)"><circle/><text y="6">413</text></g>
<g id="n350" class="n" transform="translate(1364 896)"><circle/><text y="6">350</text></g>
<g id="n19" class="n" transform="translate(1424 900)"><circle/><text y="6">19</text></g>
<g id="n57" class="n" transform="translate(1456 849)"><circle/><text id="t57" y="6">57</text></g>
<g id="n163" class="n" transform="translate(1446 839)"><circle/><text y="6">163</text></g>
<g id="n382" class="n" transform="translate(1487 836)"><circle/><text y="6">382</text></g>
<g id="n289" class="n" transform="translate(1510 795)"><circle/><text y="6">289</text></g>
<g id="n121" class="n" transform="translate(1574 812)"><circle/><text id="t121" y="6">121</text></g>
<g id="n298" class="n" transform="translate(1590 824)"><circle/><text y="6">298</text></g>
<g id="n64" class="n" transform="translate(1544 863)"><circle/><text y="6">64</text></g>
<g id="n250" class="n" transform="translate(1502 908)"><circle/><text y="6">250</text></g>
<g id="n68" class="n" transform="translate(1526 975)"><circle/><text id="t68" y="6">68</text></g>
<g id="n333" class="n" transform="translate(1503 962)"><circle/><text y="6">333</text></g>
<g id="n456" class="n" transform="translate(1583 983)"><circle/><text y="6">456</text></g>
<g id="n338" class="n" transform="translate(1656 930)"><circle/><text y="6">338</text></g>
<g id="n414" class="n" transform="translate(1728 718)"><circle/><text id="t414" y="6">414</text></g>
<g id="n451" class="n" transform="translate(1707 711)"><circle/><text y="6">451</text></g>
<g id="n253" class="n" transform="translate(1729 666)"><circle/><text y="6">253</text></g>
<g id="n219" class="n" transform="translate(1579 736)"><circle/><text y="6">219</text></g>
<g id="n71" class="n" transform="translate(1509 700)"><circle/><text id="t71" y="6">71</text></g>
<g id="n385" class="n" transform="translate(1537 713)"><circle/><text y="6">385</text></g>
<g id="n409" class="n" transform="translate(1513 687)"><circle/><text y="6">409</text></g>
<g id="n207" class="n" transform="translate(1471 690)"><circle/><text y="6">207</text></g>
<g id="n478" class="n" transform="translate(1462 721)"><circle/><text y="6">478</text></g>
<g id="n272" class="n" transform="translate(1578 629)"><circle/><text id="t272" y="6">272</text></g>
<g id="n406" class="n" transform="translate(1573 629)"><circle/><text y="6">406</text></g>
<g id="n408" class="n" transform="translate(1306 1009)"><circle/><text y="6">408</text></g>
<g id="n288" class="n" transform="translate(1368 995)"><circle/><text y="6">288</text></g>
<g id="n175" class="n" transform="translate(1472 1018)"><circle/><text id="t175" y="6">175</text></g>
<g id="n461" class="n" transform="translate(1444 1013)"><circle/><text y="6">461</text></g>
<g id="n40" class="n" transform="translate(1544 1064)"><circle/><text y="6">40</text></g>
<g id="n191" class="n" transform="translate(1655 1036)"><circle/><text y="6">191</text></g>
<g id="n226" class="n" transform="translate(1717 1079)"><circle/><text y="6">226</text></g>
<g id="n61" class="n" transform="translate(1693 1128)"><circle/><text id="t61" y="6">61</text></g>
<g id="n436" class="n" transform="translate(1679 1106)"><circle/><text y="6">436</text></g>
<g id="n165" class="n" transform="translate(1658 1159)"><circle/><text id="t165" y="6">165</text></g>
<g id="n218" class="n" transform="translate(1644 1155)"><circle/><text id="t218" y="6">218</text></g>
<g id="n400" class="n" transform="translate(1618 1157)"><circle/><text y="6">400</text></g>
<g id="n246" class="n" transform="translate(1303 1119)"><circle/><text id="t246" y="6">246</text></g>
<g id="n473" class="n" transform="translate(1311 1091)"><circle/><text y="6">473</text></g>
<g id="n160" class="n" transform="translate(1472 1157)"><circle/><text y="6">160</text></g>
<g id="n319" class="n" transform="translate(1378 1193)"><circle/><text y="6">319</text></g>
<g id="n180" class="n" transform="translate(1222 1193)"><circle/><text y="6">180</text></g>
<g id="n145" class="n" transform="translate(85 1239)"><circle/><text y="6">145</text></g>
<g id="n351" class="n" transform="translate(145 1246)"><circle/><text id="t351" y="6">351</text></g>
<g id="n431" class="n" transform="translate(134 1269)"><circle/><text y="6">431</text></g>
<g id="n475" class="n" transform="translate(98 1288)"><circle/><text y="6">475</text></g>
<g id="n179" class="n" transform="translate(34 1314)"><circle/><text y="6">179</text></g>
<g id="n128" class="n" transform="translate(27 1363)"><circle/><text y="6">128</text></g>
<g id="n371" class="n" transform="translate(93 1407)"><circle/><text y="6">371</text></g>
<g id="n340" class="n" transform="translate(165 1371)"><circle/><text id="t340" y="6">340</text></g>
<g id="n395" class="n" transform="translate(192 1369)"><circle/><text y="6">395</text></g>
<g id="n208" class="n" transform="translate(295 1311)"><circle/><text y="6">208</text></g>
<g id="n255" class="n" transform="translate(344 1210)"><circle/><text y="6">255</text></g>
<g id="n239" class="n" transform="translate(321 1414)"><circle/><text y="6">239</text></g>
<g id="n353" class="n" transform="translate(250 1416)"><circle/><text y="6">353</text></g>
<g id="n73" class="n" transform="translate(251 1464)"><circle/><text y="6">73</text></g>
<g id="n443" class="n" transform="translate(290 1513)"><circle/><text id="t443" y="6">443</text></g>
<g id="n342" class="n" transform="translate(293 1518)"><circle/><text y="6">342</text></g>
<g id="n357" class="n" transform="translate(427 1476)"><circle/><text y="6">357</text></g>
<g id="n268" class="n" transform="translate(336 1517)"><circle/><text y="6">268</text></g>
<g id="n317" class="n" transform="translate(553 1495)"><circle/><text y="6">317</text></g>
<g id="n291" class="n" transform="translate(271 1595)"><circle/><text y="6">291</text></g>
<g id="n231" class="n" transform="translate(142 1534)"><circle/><text y="6">231</text></g>
<g id="n108" class="n" transform="translate(84 1547)"><circle/><text y="6">108</text></g>
<g id="n303" class="n" transform="translate(39 1696)"><circle/><text id="t303" y="6">303</text></g>
<g id="n58" class="n" transform="translate(54 1666)"><circle/><text id="t58" y="6">58</text></g>
<g id="n398" class="n" transform="translate(70 1684)"><circle/><text y="6">398</text></g>
<g id="n25" class="n" transform="translate(117 1673)"><circle/><text y="6">25</text></g>
<g id="n4" class="n" transform="translate(169 1626)"><circle/><text y="6">4</text></g>
<g id="n28" class="n" transform="translate(239 1721)"><circle/><text y="6">28</text></g>
<g id="n314" class="n" transform="translate(288 1641)"><circle/><text y="6">314</text></g>
<g id="n222" class="n" transform="translate(343 1693)"><circle/><text y="6">222</text></g>
<g id="n327" class="n" transform="translate(369 1717)"><circle/><text y="6">327</text></g>
<g id="n304" class="n" transform="translate(439 1740)"><circle/><text id="t304" y="6">304</text></g>
<g id="n329" class="n" transform="translate(445 1745)"><circle/><text y="6">329</text></g>
<g id="n248" class="n" transform="translate(500 1730)"><circle/><text y="6">248</text></g>
<g id="n39" class="n" transform="translate(563 1726)"><circle/><text y="6">39</text></g>
<g id="n388" class="n" transform="translate(323 1620)"><circle/><text y="6">388</text></g>
<g id="n432" class="n" transform="translate(383 1608)"><circle/><text y="6">432</text></g>
<g id="n35" class="n" transform="translate(450 1559)"><circle/><text id="t35" y="6">35</text></g>
<g id="n445" class="n" transform="translate(445 1583)"><circle/><text y="6">445</text></g>
<g id="n474" class="n" transform="translate(516 1668)"><circle/><text y="6">474</text></g>
<g id="n107" class="n" transform="translate(618 1614)"><circle/><text y="6">107</text></g>
<g id="n115" class="n" transform="translate(405 1350)"><circle/><text id="t115" y="6">115</text></g>
<g id="n178" class="n" transform="translate(419 1356)"><circle/><text y="6">178</text></g>
<g id="n37" class="n" transform="translate(485 1314)"><circle/><text id="t37" y="6">37</text></g>
<g id="n224" class="n" transform="translate(504 1329)"><circle/><text y="6">224</text></g>
<g id="n482" class="n" transform="translate(557 1386)"><circle/><text y="6">482</text></g>
<g id="n294" class="n" transform="translate(612 1428)"><circle/><text y="6">294</text></g>
<g id="n143" class="n" transform="translate(616 1185)"><circle/><text id="t143" y="6">143</text></g>
<g id="n468" class="n" transform="translate(640 1180)"><circle/><text y="6">468</text></g>
<g id="n375" class="n" transform="translate(677 1218)"><circle/><text y="6">375</text></g>
<g id="n162" class="n" transform="translate(742 1292)"><circle/><text y="6">162</text></g>
<g id="n44" class="n" transform="translate(716 1332)"><circle/><text y="6">44</text></g>
<g id="n440" class="n" transform="translate(648 1349)"><circle/><text y="6">440</text></g>
<g id="n159" class="n" transform="translate(876 1330)"><circle/><text y="6">159</text></g>
<g id="n493" class="n" transform="translate(833 1379)"><circle/><text y="6">493</text></g>
<g id="n5" class="n" transform="translate(845 1454)"><circle/><text y="6">5</text></g>
<g id="n195" class="n" transform="translate(797 1475)"><circle/><text y="6">195</text></g>
<g id="n41" class="n" transform="translate(743 1454)"><circle/><text id="t41" y="6">41</text></g>
<g id="n450" class="n" transform="translate(726 1450)"><circle/><text y="6">450</text></g>
<g id="n206" class="n" transform="translate(701 1502)"><circle/><text y="6">206</text></g>
<g id="n202" class="n" transform="translate(657 1518)"><circle/><text id="t202" y="6">202</text></g>
<g id="n427" class="n" transform="translate(648 1499)"><circle/><text y="6">427</text></g>
<g id="n299" class="n" transform="translate(668 1537)"><circle/><text y="6">299</text></g>
<g id="n176" class="n" transform="translate(694 1595)"><circle/><text id="t176" y="6">176</text></g>
<g id="n198" class="n" transform="translate(670 1596)"><circle/><text y="6">198</text></g>
<g id="n499" class="n" transform="translate(683 1635)"><circle/><text y="6">499</text></g>
<g id="n404" class="n" transform="translate(742 1687)"><circle/><text y="6">404</text></g>
<g id="n249" class="n" transform="translate(766 1740)"><circle/><text y="6">249</text></g>
<g id="n348" class="n" transform="translate(930 1740)"><circle/><text y="6">348</text></g>
<g id="n93" class="n" transform="translate(832 1677)"><circle/><text y="6">93</text></g>
<g id="n152" class="n" transform="translate(899 1544)"><circle/><text y="6">152</text></g>
<g id="n411" class="n" transform="translate(945 1415)"><circle/><text y="6">411</text></g>
<g id="n117" class="n" transform="translate(1072 1392)"><circle/><text y="6">117</text></g>
<g id="n275" class="n" transform="translate(1078 1340)"><circle/><text y="6">275</text></g>
<g id="n263" class="n" transform="translate(1143 1256)"><circle/><text y="6">263</text></g>
<g id="n23" class="n" transform="translate(1107 1348)"><circle/><text id="t23" y="6">23</text></g>
<g id="n38" class="n" transform="translate(1115 1332)"><circle/><text y="6">38</text></g>
<g id="n149" class="n" transform="translate(1140 1401)"><circle/><text id="t149" y="6">149</text></g>
<g id="n381" class="n" transform="translate(1118 1405)"><circle/><text y="6">381</text></g>
<g id="n48" class="n" transform="translate(1118 1440)"><circle/><text y="6">48</text></g>
<g id="n378" class="n" transform="translate(1035 1426)"><circle/><text y="6">378</text></g>
<g id="n223" class="n" transform="translate(983 1497)"><circle/><text id="t223" y="6">223</text></g>
<g id="n457" class="n" transform="translate(1012 1510)"><circle/><text y="6">457</text></g>
<g id="n434" class="n" transform="translate(990 1545)"><circle/><text y="6">434</text></g>
<g id="n204" class="n" transform="translate(1083 1557)"><circle/><text y="6">204</text></g>
<g id="n424" class="n" transform="translate(1157 1519)"><circle/><text y="6">424</text></g>
<g id="n34" class="n" transform="translate(1208 1534)"><circle/><text id="t34" y="6">34</text></g>
<g id="n7" class="n" transform="translate(1043 1583)"><circle/><text id="t7" y="6">7</text></g>
<g id="n265" class="n" transform="translate(1033 1599)"><circle/><text y="6">265</text></g>
<g id="n494" class="n" transform="translate(1049 1647)"><circle/><text y="6">494</text></g>
<g id="n269" class="n" transform="translate(1184 1627)"><circle/><text y="6">269</text></g>
<g id="n210" class="n" transform="translate(1124 1680)"><circle/><text id="t210" y="6">210</text></g>
<g id="n464" class="n" transform="translate(1098 1696)"><circle/><text y="6">464</text></g>
<g id="n187" class="n" transform="translate(1118 1206)"><circle/><text y="6">187</text></g>
<g id="n45" class="n" transform="translate(1174 1213)"><circle/><text y="6">45</text></g>
<g id="n347" class="n" transform="translate(1242 1260)"><circle/><text id="t347" y="6">347</text></g>
<g id="n346" class="n" transform="translate(1270 1227)"><circle/><text y="6">346</text></g>
<g id="n13" class="n" transform="translate(1358 1252)"><circle/><text id="t13" y="6">13</text></g>
<g id="n469" class="n" transform="translate(1334 1238)"><circle/><text y="6">469</text></g>
<g id="n356" class="n" transform="translate(1392 1241)"><circle/><text y="6">356</text></g>
<g id="n454" class="n" transform="translate(1393 1270)"><circle/><text y="6">454</text></g>
<g id="n103" class="n" transform="translate(1433 1267)"><circle/><text y="6">103</text></g>
<g id="n267" class="n" transform="translate(1353 1286)"><circle/><text y="6">267</text></g>
<g id="n67" class="n" transform="translate(1320 1286)"><circle/><text id="t67" y="6">67</text></g>
<g id="n97" class="n" transform="translate(1330 1314)"><circle/><text y="6">97</text></g>
<g id="n216" class="n" transform="translate(1295 1364)"><circle/><text id="t216" y="6">216</text></g>
<g id="n279" class="n" transform="translate(1321 1367)"><circle/><text y="6">279</text></g>
<g id="n133" class="n" transform="translate(1364 1432)"><circle/><text y="6">133</text></g>
<g id="n157" class="n" transform="translate(1310 1423)"><circle/><text y="6">157</text></g>
<g id="n285" class="n" transform="translate(1286 1462)"><circle/><text y="6">285</text></g>
<g id="n201" class="n" transform="translate(1227 1487)"><circle/><text y="6">201</text></g>
<g id="n373" class="n" transform="translate(1343 1512)"><circle/><text id="t373" y="6">373</text></g>
<g id="n184" class="n" transform="translate(1347 1536)"><circle/><text y="6">184</text></g>
<g id="n66" class="n" transform="translate(1396 1498)"><circle/><text y="6">66</text></g>
<g id="n185" class="n" transform="translate(1458 1524)"><circle/><text id="t185" y="6">185</text></g>
<g id="n462" class="n" transform="translate(1476 1537)"><circle/><text y="6">462</text></g>
<g id="n173" class="n" transform="translate(1520 1514)"><circle/><text y="6">173</text></g>
<g id="n112" class="n" transform="translate(1565 1532)"><circle/><text id="t112" y="6">112</text></g>
<g id="n372" class="n" transform="translate(1552 1524)"><circle/><text y="6">372</text></g>
<g id="n116" class="n" transform="translate(1289 1548)"><circle/><text y="6">116</text></g>
<g id="n386" class="n" transform="translate(1221 1561)"><circle/><text y="6">386</text></g>
<g id="n337" class="n" transform="translate(1233 1632)"><circle/><text y="6">337</text></g>
<g id="n496" class="n" transform="translate(1290 1657)"><circle/><text y="6">496</text></g>
<g id="n266" class="n" transform="translate(1340 1647)"><circle/><text y="6">266</text></g>
<g id="n332" class="n" transform="translate(1410 1599)"><circle/><text id="t332" y="6">332</text></g>
<g id="n367" class="n" transform="translate(1389 1621)"><circle/><text y="6">367</text></g>
<g id="n6" class="n" transform="translate(1460 1631)"><circle/><text y="6">6</text></g>
<g id="n46" class="n" transform="translate(1254 1700)"><circle/><text y="6">46</text></g>
<g id="n421" class="n" transform="translate(1241 1731)"><circle/><text y="6">421</text></g>
<g id="n1" class="n s" transform="translate(1397 1711)"><circle/><text y="6">1</text></g>
<g id="n54" class="n" transform="translate(1440 1715)"><circle/><text y="6">54</text></g>
<g id="n229" class="n" transform="translate(1452 1777)"><circle/><text id="t229" y="6">229</text></g>
<g id="n488" class="n" transform="translate(1432 1769)"><circle/><text y="6">488</text></g>
<g id="n453" class="n" transform="translate(1495 1756)"><circle/><text y="6">453</text></g>
<g id="n49" class="n" transform="translate(1563 1763)"><circle/><text y="6">49</text></g>
<g id="n274" class="n" transform="translate(1590 1710)"><circle/><text y="6">274</text></g>
<g id="n155" class="n" transform="translate(1692 1727)"><circle/><text y="6">155</text></g>
<g id="n55" class="n" transform="translate(1773 1728)"><circle/><text y="6">55</text></g>
<g id="n271" class="n" transform="translate(1735 1676)"><circle/><text y="6">271</text></g>
<g id="n383" class="n" transform="translate(1750 1619)"><circle/><text y="6">383</text></g>
<g id="n310" class="n" transform="translate(1711 1616)"><circle/><text id="t310" y="6">310</text></g>
<g id="n470" class="n" transform="translate(1654 1599)"><circle/><text y="6">470</text></g>
<g id="n10" class="n" transform="translate(1674 1550)"><circle/><text id="t10" y="6">10</text></g>
<g id="n3" class="n" transform="translate(1703 1551)"><circle/><text id="t3" y="6">3</text></g>
<g id="n459" class="n" transform="translate(1689 1572)"><circle/><text y="6">459</text></g>
<g id="n91" class="n" transform="translate(1485 1329)"><circle/><text y="6">91</text></g>
<g id="n420" class="n" transform="translate(1560 1226)"><circle/><text y="6">420</text></g>
<g id="n217" class="n" transform="translate(1503 1422)"><circle/><text id="t217" y="6">217</text></g>
<g id="n308" class="n" transform="translate(1510 1415)"><circle/><text y="6">308</text></g>
<g id="n213" class="n" transform="translate(1605 1438)"><circle/><text id="t213" y="6">213</text></g>
<g id="n442" class="n" transform="translate(1593 1418)"><circle/><text y="6">442</text></g>
<g id="n396" class="n" transform="translate(1605 1470)"><circle/><text y="6">396</text></g>
<g id="n423" class="n" transform="translate(1583 1334)"><circle/><text y="6">423</text></g>
<g id="n105" class="n" transform="translate(1617 1298)"><circle/><text y="6">105</text></g>
<g id="n416" class="n" transform="translate(1652 1287)"><circle/><text y="6">416</text></g>
<g id="n102" class="n" transform="translate(1678 1312)"><circle/><text y="6">102</text></g>
<g id="n141" class="n" transform="translate(1639 1339)"><circle/><text y="6">141</text></g>
<g id="n147" class="n" transform="translate(1733 1347)"><circle/><text id="t147" y="6">147</text></g>
<g id="n241" class="n" transform="translate(1734 1337)"><circle/><text y="6">241</text></g>
<g id="n33" class="n" transform="translate(1704 1389)"><circle/><text id="t33" y="6">33</text></g>
<g id="n466" class="n" transform="translate(1719 1389)"><circle/><text y="6">466</text></g>
<g id="n280" class="n" transform="translate(1779 1300)"><circle/><text y="6">280</text></g>
<g id="n32" class="n" transform="translate(1620 1206)"><circle/><text y="6">32</text></g>
<g id="n361" class="n" transform="translate(1666 1213)"><circle/><text y="6">361</text></g>
</g>
<g id="top">
<use href="#t85" transform="translate(272 65)"/><use href="#t123" transform="translate(24 323)"/><use href="#t228" transform="translate(498 156)"/><use href="#t390" transform="translate(519 169)"/><use href="#t136" transform="translate(256 64)"/><use href="#t394" transform="translate(489 35)"/><use href="#t256" transform="translate(478 504)"/><use href="#t458" transform="translate(570 473)"/><use href="#t282" transform="translate(605 314)"/><use href="#t119" transform="translate(691 298)"/><use href="#t264" transform="translate(736 157)"/><use href="#t94" transform="translate(900 139)"/><use href="#t278" transform="translate(834 256)"/><use href="#t286" transform="translate(778 282)"/><use href="#t339" transform="translate(751 282)"/><use href="#t399" transform="translate(749 289)"/><use href="#t417" transform="translate(776 478)"/><use href="#t233" transform="translate(744 492)"/><use href="#t214" transform="translate(708 596)"/><use href="#t197" transform="translate(868 444)"/><use href="#t18" transform="translate(924 486)"/><use href="#t83" transform="translate(871 519)"/><use href="#t309" transform="translate(990 520)"/><use href="#t196" transform="translate(1208 309)"/><use href="#t137" transform="translate(1342 276)"/><use href="#t92" transform="translate(1560 251)"/><use href="#t360" transform="translate(1535 241)"/><use href="#t15" transform="translate(1520 191)"/><use href="#t72" transform="translate(1631 285)"/><use href="#t252" transform="translate(1779 214)"/><use href="#t29" transform="translate(1360 366)"/><use href="#t245" transform="translate(1675 540)"/><use href="#t240" transform="translate(1710 552)"/><use href="#t205" transform="translate(1458 542)"/><use href="#t156" transform="translate(1364 537)"/><use href="#t221" transform="translate(225 696)"/><use href="#t318" transform="translate(198 700)"/><use href="#t110" transform="translate(58 1163)"/><use href="#t448" transform="translate(155 779)"/><use href="#t391" transform="translate(250 874)"/><use href="#t14" transform="translate(275 995)"/><use href="#t56" transform="translate(146 1150)"/><use href="#t277" transform="translate(241 1152)"/><use href="#t30" transform="translate(322 1098)"/><use href="#t292" transform="translate(419 1013)"/><use href="#t24" transform="translate(425 1153)"/><use href="#t104" transform="translate(539 1162)"/><use href="#t96" transform="translate(523 1211)"/><use href="#t12" transform="translate(689 717)"/><use href="#t27" transform="translate(824 695)"/><use href="#t63" transform="translate(816 685)"/><use href="#t446" transform="translate(1180 734)"/><use href="#t153" transform="translate(675 985)"/><use href="#t243" transform="translate(643 992)"/><use href="#t174" transform="translate(873 1048)"/><use href="#t127" transform="translate(1073 1125)"/><use href="#t270" transform="translate(1060 960)"/><use href="#t118" transform="translate(1281 689)"/><use href="#t312" transform="translate(1226 881)"/><use href="#t135" transform="translate(1196 912)"/><use href="#t57" transform="translate(1456 849)"/><use href="#t121" transform="translate(1574 812)"/><use href="#t68" transform="translate(1526 975)"/><use href="#t414" transform="translate(1728 718)"/><use href="#t71" transform="translate(1509 700)"/><use href="#t272" transform="translate(1578 629)"/><use href="#t175" transform="translate(1472 1018)"/><use href="#t61" transform="translate(1693 1128)"/><use href="#t165" transform="translate(1658 1159)"/><use href="#t218" transform="translate(1644 1155)"/><use href="#t246" transform="translate(1303 1119)"/><use href="#t351" transform="translate(145 1246)"/><use href="#t340" transform="translate(165 1371)"/><use href="#t443" transform="translate(290 1513)"/><use href="#t303" transform="translate(39 1696)"/><use href="#t58" transform="translate(54 1666)"/><use href="#t304" transform="translate(439 1740)"/><use href="#t35" transform="translate(450 1559)"/><use href="#t115" transform="translate(405 1350)"/><use href="#t37" transform="translate(485 1314)"/><use href="#t143" transform="translate(616 1185)"/><use href="#t41" transform="translate(743 1454)"/><use href="#t202" transform="translate(657 1518)"/><use href="#t176" transform="translate(694 1595)"/><use href="#t23" transform="translate(1107 1348)"/><use href="#t149" transform="translate(1140 1401)"/><use href="#t223" transform="translate(983 1497)"/><use href="#t34" transform="translate(1208 1534)"/><use href="#t7" transform="translate(1043 1583)"/><use href="#t210" transform="translate(1124 1680)"/><use href="#t347" transform="translate(1242 1260)"/><use href="#t13" transform="translate(1358 1252)"/><use href="#t67" transform="translate(1320 1286)"/><use href="#t216" transform="translate(1295 1364)"/><use href="#t373" transform="translate(1343 1512)"/><use href="#t185" transform="translate(1458 1524)"/><use href="#t112" transform="translate(1565 1532)"/><use href="#t332" transform="translate(1410 1599)"/><use href="#t229" transform="translate(1452 1777)"/><use href="#t310" transform="translate(1711 1616)"/><use href="#t10" transform="translate(1674 1550)"/><use href="#t3" transform="translate(1703 1551)"/><use href="#t217" transform="translate(1503 1422)"/><use href="#t213" transform="translate(1605 1438)"/><use href="#t147" transform="translate(1733 1347)"/><use href="#t33" transform="translate(1704 1389)"/>
</g>
<g id="labels">
<text x="45" y="68">40.02</text><text x="72" y="87">61.39</text><text x="131" y="86">28.37</text><text x="119" y="123">54.34</text><text x="97" y="160">29.06</text><text x="67" y="257">86.49</text><text x="46" y="340">14.86</text><text x="64" y="332">51.95</text><text x="174" y="375">53.72</text><text x="193" y="382">40.24</text><text x="191" y="317">46.76</text><text x="188" y="260">33.16</text><text x="227" y="216">24.99</text><text x="298" y="179">67.67</text><text x="383" y="136">36.0</text><text x="478" y="138">42.93</text><text x="525" y="154">13.76</text><text x="536" y="188">14.55</text><text x="535" y="239">44.76</text><text x="509" y="296">30.31</text><text x="452" y="314">39.22</text><text x="405" y="387">83.6</text><text x="399" y="477">17.11</text><text x="344" y="493">23.89</text><text x="323" y="516">46.9</text><text x="212" y="534">60.62</text><text x="126" y="526">74.38</text>
<text x="228" y="51">24.63</text><text x="228" y="61">39.69</text><text x="253" y="79">8.71</text><text x="389" y="73">112.67</text><text x="496" y="58">14.69</text><text x="540" y="71">76.3</text><text x="177" y="130">57.35</text>
<text x="574" y="454">37.72</text><text x="459" y="504">6.32</text><text x="509" y="491">27.45</text><text x="528" y="491">15.65</text><text x="551" y="491">11.95</text><text x="491" y="545">44.15</text><text x="586" y="570">40.82</text><text x="587" y="593">38.38</text>
<text x="584" y="378">58.29</text><text x="584" y="309">9.54</text><text x="638" y="306">20.28</text><text x="658" y="305">27.72</text><text x="683" y="320">11.58</text><text x="657" y="269">44.19</text><text x="648" y="257">30.27</text><text x="586" y="244">21.74</text><text x="650" y="203">78.79</text><text x="743" y="182">25.9</text><text x="775" y="159">33.1</text><text x="778" y="105">29.46</text><text x="763" y="59">29.86</text><text x="809" y="27">33.94</text><text x="847" y="29">44.89</text><text x="920" y="99">63.25</text><text x="889" y="149">6.09</text><text x="851" y="134">45.84</text><text x="799" y="143">65.03</text><text x="710" y="168">12.64</text><text x="668" y="130">52.11</text><text x="618" y="97">19.13</text>
<text x="850" y="209">25.04</text><text x="862" y="218">40.59</text><text x="837" y="236">29.9</text><text x="835" y="273">16.81</text><text x="807" y="285">20.76</text><text x="746" y="298">15.98</text><text x="768" y="294">5.89</text><text x="746" y="329">42.91</text><text x="737" y="405">50.74</text><text x="770" y="452">31.88</text><text x="776" y="500">19.77</text><text x="755" y="504">7.79</text><text x="703" y="518">25.89</text><text x="730" y="550">56.01</text><text x="738" y="609">13.75</text><text x="757" y="601">41.65</text><text x="763" y="659">36.76</text><text x="765" y="662">25.67</text><text x="707" y="686">49.99</text><text x="695" y="692">47.12</text><text x="659" y="712">12.54</text><text x="669" y="714">24.29</text><text x="812" y="674">25.84</text><text x="849" y="679">25.62</text><text x="825" y="681">7.5</text><text x="854" y="744">53.03</text><text x="882" y="772">25.46</text><text x="895" y="777">27.56</text><text x="902" y="718">43.58</text><text x="962" y="654">47.89</text><text x="1024" y="689">46.96</text><text x="988" y="757">38.97</text><text x="1008" y="798">75.27</text><text x="1048" y="829">29.71</text><text x="1097" y="795">39.73</text><text x="1145" y="765">35.32</text><text x="1166" y="735">5.71</text><text x="1169" y="713">21.11</text><text x="1178" y="643">59.41</text><text x="1254" y="573">72.54</text><text x="1332" y="563">28.32</text><text x="1382" y="536">13.19</text><text x="1397" y="534">31.78</text><text x="1466" y="530">10.81</text><text x="1506" y="549">40.67</text><text x="1514" y="554">28.36</text><text x="1568" y="532">28.1</text><text x="1593" y="577">18.28</text><text x="1591" y="614">23.07</text><text x="1588" y="620">2.67</text><text x="1595" y="689">60.42</text><text x="1544" y="739">26.81</text><text x="1510" y="723">17.81</text><text x="1497" y="700">7.85</text><text x="1508" y="703">23.45</text><text x="1481" y="710">18.66</text><text x="1392" y="703">71.12</text><text x="1363" y="677">22.79</text><text x="1279" y="705">15.37</text><text x="1296" y="705">33.58</text><text x="1298" y="725">47.09</text><text x="1282" y="809">77.34</text><text x="1240" y="873">15.59</text><text x="1231" y="906">17.41</text><text x="1210" y="913">8.55</text><text x="1227" y="969">59.63</text><text x="1177" y="1009">43.89</text><text x="1107" y="932">71.15</text><text x="1089" y="922">51.24</text><text x="1039" y="971">10.8</text><text x="1036" y="986">36.52</text><text x="1021" y="995">20.5</text><text x="1073" y="1015">41.55</text><text x="1143" y="1051">48.89</text><text x="1196" y="1087">15.57</text><text x="1218" y="1155">54.92</text><text x="1261" y="1200">33.24</text><text x="1272" y="1250">24.19</text><text x="1187" y="1252">47.64</text><text x="1129" y="1223">32.07</text><text x="1083" y="1172">48.67</text><text x="1078" y="1149">15.4</text><text x="1049" y="1172">35.96</text><text x="996" y="1180">19.59</text><text x="948" y="1142">64.42</text><text x="881" y="1079">37.91</text><text x="849" y="1045">14.15</text><text x="857" y="968">79.58</text><text x="892" y="916">17.87</text><text x="843" y="943">43.75</text><text x="753" y="947">34.97</text><text x="696" y="919">37.82</text><text x="661" y="877">26.44</text><text x="661" y="872">33.84</text><text x="652" y="927">65.04</text><text x="680" y="972">13.08</text><text x="675" y="1004">18.04</text><text x="660" y="1010">15.28</text><text x="725" y="1060">91.58</text><text x="744" y="1103">1025.58</text><text x="843" y="1230">133.25</text><text x="870" y="1361">36.64</text><text x="854" y="1421">42.82</text><text x="836" y="1480">29.97</text><text x="753" y="1480">32.86</text><text x="724" y="1467">9.9</text><text x="729" y="1481">32.93</text><text x="786" y="1595">124.25</text><text x="849" y="1617">84.04</text><text x="905" y="1485">78.03</text><text x="992" y="1395">73.48</text><text x="1058" y="1371">29.52</text><text x="1094" y="1303">60.24</text><text x="1144" y="1300">46.39</text><text x="1123" y="1346">9.79</text><text x="1138" y="1379">35.74</text><text x="1145" y="1418">12.94</text><text x="1133" y="1429">19.46</text><text x="1060" y="1449">47.94</text><text x="1021" y="1467">49.9</text><text x="1010" y="1496">17.5</text><text x="1016" y="1533">23.28</text><text x="1052" y="1542">52.83</text><text x="1103" y="1529">47.29</text><text x="1211" y="1581">76.97</text><text x="1274" y="1636">35.3</text><text x="1301" y="1643">28.7</text><text x="1348" y="1625">31.69</text><text x="1384" y="1615">17.18</text><text x="1450" y="1607">34.18</text><text x="1378" y="1680">123.55</text><text x="1263" y="1721">19.29</text>
<text x="1435" y="1705">24.84</text><text x="1452" y="1748">31.17</text><text x="1457" y="1758">27.14</text><text x="1457" y="1765">12.08</text><text x="1544" y="1752">38.21</text><text x="1560" y="1742">34.78</text><text x="1656" y="1709">57.97</text><text x="1748" y="1719">46.53</text><text x="1737" y="1708">36.68</text><text x="1727" y="1652">33.97</text><text x="1714" y="1631">22.24</text><text x="1687" y="1601">24.42</text><text x="1691" y="1589">36.59</text><text x="1697" y="1566">15.17</text><text x="1671" y="1566">16.15</text><text x="1592" y="1581">63.94</text><text x="1544" y="1542">8.69</text><text x="1520" y="1532">19.36</text><text x="1513" y="1540">28.41</text><text x="1451" y="1545">12.68</text><text x="1410" y="1525">38.13</text><text x="1381" y="1520">31.1</text><text x="1361" y="1529">13.57</text><text x="1333" y="1556">33.69</text><text x="1270" y="1569">38.89</text><text x="1193" y="1553">17.17</text><text x="1204" y="1516">28.87</text><text x="1240" y="1466">35.99</text><text x="1281" y="1448">26.15</text><text x="1353" y="1419">31.33</text><text x="1314" y="1413">55.06</text><text x="1324" y="1356">14.56</text><text x="1309" y="1346">30.53</text><text x="1310" y="1305">16.73</text><text x="1353" y="1278">18.38</text><text x="1356" y="1269">24.69</text><text x="1388" y="1261">22.85</text><text x="1400" y="1262">27.65</text><text x="1332" y="1259">14.8</text><text x="1340" y="1220">35.56</text><text x="1409" y="1167">57.52</text><text x="1531" y="1184">63.02</text><text x="1537" y="1284">71.79</text><text x="1513" y="1377">50.91</text><text x="1519" y="1433">5.12</text><text x="1569" y="1436">63.63</text><text x="1589" y="1458">17.97</text><text x="1584" y="1434">13.08</text><text x="1571" y="1381">48.42</text><text x="1583" y="1320">28.17</text><text x="1617" y="1284">20.72</text><text x="1680" y="1292">20.37</text><text x="1674" y="1341">27.11</text><text x="1684" y="1356">46.3</text><text x="1720" y="1381">8.8</text><text x="1709" y="1374">25.57</text><text x="1721" y="1348">5.06</text><text x="1740" y="1310">33.44</text><text x="1706" y="1271">81.15</text><text x="1628" y="1224">26.01</text><text x="1602" y="1186">27.18</text><text x="1614" y="1147">15.24</text><text x="1659" y="1147">7.0</text><text x="1658" y="1135">26.77</text><text x="1670" y="1123">14.53</text><text x="1682" y="1084">26.44</text><text x="1669" y="1073">42.79</text><text x="1614" y="1065">65.24</text><text x="1491" y="1056">48.37</text><text x="1442" y="1031">16.09</text><text x="1389" y="1018">43.97</text><text x="1353" y="1017">36.42</text><text x="1321" y="1069">61.83</text><text x="1293" y="1111">16.21</text><text x="1295" y="1019">86.70</text><text x="1321" y="909">37.74</text><text x="1409" y="889">34.02</text><text x="1418" y="875">36.67</text><text x="1454" y="834">18.8</text><text x="1464" y="835">8.09</text><text x="1482" y="821">26.69</text><text x="1554" y="795">37.3</text><text x="1598" y="810">10.99</text><text x="1583" y="858">34.09</text><text x="1538" y="892">35.07</text><text x="1516" y="940">30.5</text><text x="1531" y="961">15.18</text><text x="1567" y="971">32.6</text><text x="1605" y="948">51.31</text><text x="1676" y="829">126.9</text><text x="1701" y="730">12.87</text><text x="1701" y="695">28.42</text><text x="1738" y="644">33.13</text><text x="1741" y="576">81.56</text><text x="1738" y="532">31.88</text><text x="1719" y="570">10.94</text><text x="1669" y="556">14.99</text><text x="1684" y="556">15.95</text><text x="1601" y="536">45.13</text><text x="1601" y="449">70.5</text><text x="1593" y="381">49.73</text><text x="1551" y="378">48.88</text><text x="1412" y="391">80.03</text><text x="1363" y="382">7.0</text><text x="1280" y="435">115.09</text><text x="1158" y="501">38.39</text><text x="1077" y="450">64.74</text><text x="1119" y="363">69.78</text><text x="1184" y="335">26.18</text><text x="1191" y="306">12.36</text><text x="1263" y="239">80.88</text><text x="1353" y="234">28.46</text><text x="1344" y="264">19.99</text><text x="1355" y="271">13.39</text><text x="1415" y="306">46.74</text><text x="1435" y="319">32.32</text><text x="1503" y="276">60.23</text><text x="1549" y="258">5.92</text><text x="1533" y="259">11.48</text><text x="1494" y="240">37.0</text><text x="1474" y="185">36.85</text><text x="1525" y="172">22.4</text><text x="1525" y="180">26.22</text><text x="1537" y="195">3.76</text><text x="1582" y="159">42.72</text><text x="1649" y="184">31.41</text><text x="1648" y="250">44.65</text><text x="1655" y="283">11.69</text><text x="1696" y="257">81.21</text><text x="1760" y="229">10.23</text><text x="1729" y="218">40.24</text><text x="1711" y="146">58.96</text><text x="1743" y="112">19.89</text><text x="1678" y="87">26.28</text><text x="1650" y="77">22.63</text><text x="1586" y="72">53.3</text><text x="1497" y="53">45.97</text><text x="1435" y="55">67.15</text><text x="1317" y="58">42.0</text><text x="1321" y="71">46.76</text><text x="1302" y="133">33.21</text><text x="1210" y="112">55.79</text><text x="1181" y="87">28.3</text><text x="1085" y="105">62.4</text><text x="1059" y="99">14.17</text><text x="1078" y="133">33.35</text><text x="1095" y="174">18.76</text><text x="1019" y="187">49.26</text><text x="1011" y="188">27.64</text><text x="998" y="231">31.1</text><text x="991" y="351">114.24</text><text x="1008" y="449">21.78</text><text x="1020" y="483">12.15</text><text x="1011" y="508">19.35</text><text x="1011" y="534">13.42</text><text x="1021" y="562">19.98</text><text x="1005" y="596">22.53</text><text x="949" y="562">36.97</text><text x="939" y="545">42.95</text><text x="863" y="534">14.13</text><text x="873" y="495">27.07</text><text x="902" y="479">8.27</text><text x="879" y="480">40.28</text><text x="850" y="439">11.62</text><text x="867" y="402">26.95</text><text x="871" y="382">28.04</text><text x="876" y="346">20.61</text><text x="902" y="333">28.05</text><text x="900" y="271">46.35</text>
<text x="116" y="648">26.45</text><text x="173" y="676">48.18</text><text x="200" y="690">15.8</text><text x="243" y="693">7.41</text><text x="271" y="738">27.98</text><text x="281" y="824">69.62</text><text x="237" y="883">3.74</text><text x="205" y="880">34.04</text><text x="161" y="836">34.37</text><text x="147" y="805">23.63</text><text x="143" y="798">14.16</text><text x="138" y="821">19.16</text><text x="129" y="865">32.3</text><text x="152" y="894">37.77</text><text x="176" y="934">30.26</text><text x="183" y="942">18.02</text><text x="254" y="968">29.85</text><text x="280" y="984">8.93</text><text x="230" y="1079">114.38</text><text x="169" y="1165">11.92</text><text x="211" y="1165">42.47</text><text x="221" y="1172">16.23</text><text x="255" y="1115">59.39</text><text x="310" y="1093">13.77</text><text x="328" y="1088">20.46</text><text x="332" y="1062">27.98</text><text x="420" y="1057">57.74</text><text x="490" y="1067">73.28</text><text x="540" y="1061">18.06</text><text x="517" y="1013">35.47</text><text x="517" y="1003">30.99</text><text x="473" y="1023">20.0</text><text x="418" y="1029">14.31</text><text x="391" y="992">32.35</text><text x="374" y="934">36.59</text><text x="357" y="878">31.62</text><text x="366" y="821">44.71</text><text x="344" y="734">79.81</text><text x="284" y="676">21.16</text><text x="252" y="655">24.91</text><text x="269" y="615">46.06</text><text x="362" y="656">46.76</text><text x="392" y="709">22.69</text><text x="442" y="726">49.79</text><text x="456" y="723">35.31</text><text x="521" y="644">83.12</text>
<text x="54" y="612">16.81</text><text x="32" y="681">59.48</text><text x="40" y="755">18.43</text><text x="41" y="775">23.89</text><text x="19" y="835">48.31</text><text x="16" y="906">38.23</text><text x="61" y="980">61.58</text><text x="57" y="1087">83.02</text><text x="32" y="1170">14.99</text><text x="55" y="1207">46.36</text><text x="98" y="1258">33.55</text><text x="122" y="1263">14.09</text><text x="100" y="1270">23.26</text><text x="49" y="1293">38.87</text><text x="17" y="1344">28.1</text><text x="47" y="1400">45.0</text><text x="144" y="1405">46.06</text><text x="195" y="1384">15.26</text><text x="259" y="1356">67.17</text><text x="335" y="1267">64.11</text><text x="391" y="1208">40.41</text><text x="429" y="1174">22.11</text><text x="431" y="1168">17.28</text><text x="496" y="1168">27.39</text><text x="503" y="1165">23.89</text><text x="516" y="1186">21.98</text><text x="509" y="1211">6.95</text><text x="586" y="1212">55.17</text><text x="648" y="1197">12.92</text><text x="641" y="1206">30.24</text><text x="692" y="1261">56.16</text><text x="712" y="1318">26.95</text><text x="665" y="1331">39.58</text><text x="613" y="1393">49.23</text><text x="595" y="1399">39.42</text><text x="545" y="1362">44.55</text><text x="511" y="1313">13.38</text><text x="435" y="1326">44.74</text><text x="424" y="1344">8.07</text><text x="346" y="1374">60.02</text><text x="270" y="1408">40.12</text><text x="234" y="1445">27.12</text><text x="254" y="1494">35.84</text><text x="276" y="1522">2.59</text><text x="265" y="1563">45.84</text><text x="222" y="1556">81.35</text><text x="96" y="1532">33.57</text><text x="54" y="1612">69.71</text><text x="31" y="1687">19.36</text><text x="71" y="1706">19.15</text><text x="109" y="1693">26.99</text><text x="158" y="1664">39.58</text><text x="188" y="1679">67.14</text><text x="279" y="1688">53.16</text><text x="302" y="1683">42.81</text><text x="339" y="1721">19.93</text><text x="388" y="1744">42.32</text><text x="430" y="1749">3.3</text><text x="488" y="1752">33.18</text><text x="547" y="1742">35.74</text><text x="610" y="1675">70.62</text><text x="551" y="1633">65.63</text><text x="496" y="1630">63.43</text><text x="463" y="1576">13.05</text><text x="400" y="1576">46.73</text><text x="337" y="1607">34.52</text><text x="346" y="1574">59.08</text><text x="397" y="1511">56.86</text><text x="475" y="1501">71.97</text><text x="584" y="1512">54.04</text><text x="636" y="1515">11.37</text><text x="647" y="1532">12.61</text><text x="652" y="1573">33.55</text><text x="698" y="1611">13.84</text><text x="672" y="1620">23.58</text><text x="696" y="1675">44.52</text><text x="737" y="1719">32.99</text><text x="832" y="1755">92.83</text><text x="996" y="1675">98.47</text><text x="1051" y="1597">11.3</text><text x="1029" y="1620">36.37</text><text x="1058" y="1678">39.72</text><text x="1127" y="1703">17.01</text><text x="1166" y="1670">45.4</text><text x="1189" y="1685">67.03</text>
</g>
</svg>
